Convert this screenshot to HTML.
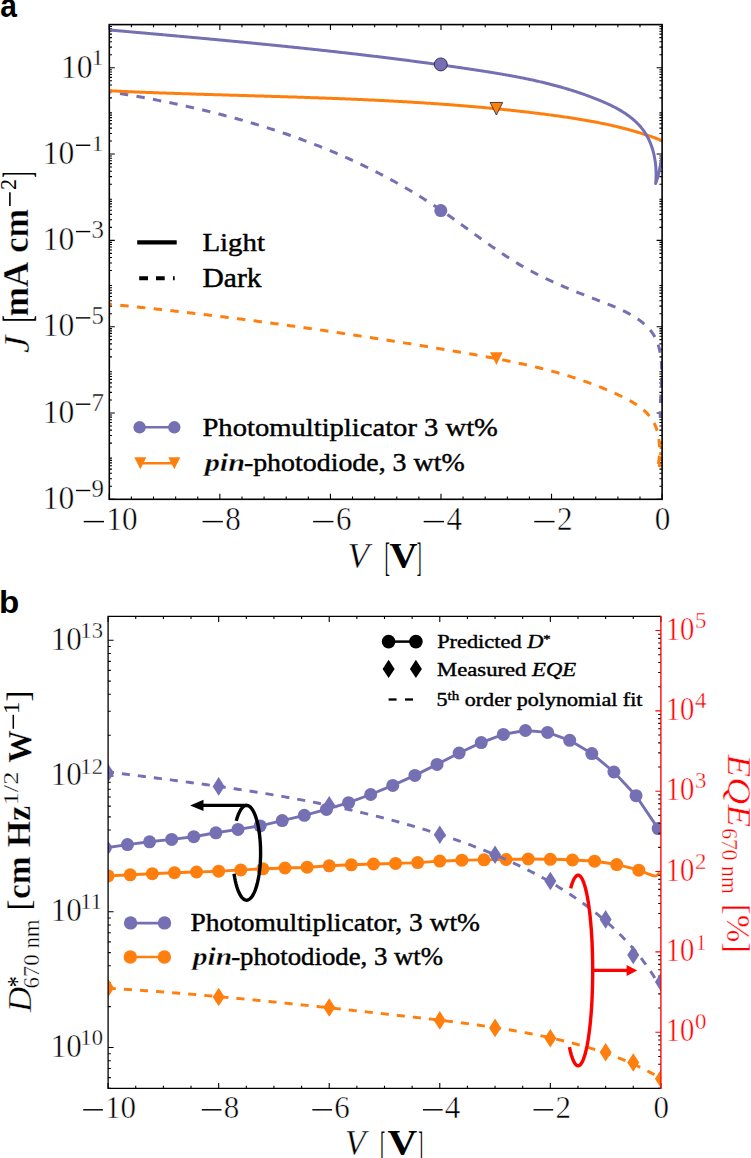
<!DOCTYPE html>
<html><head><meta charset="utf-8"><title>figure</title><style>
html,body{margin:0;padding:0;background:#fff;}
body{width:751px;height:1158px;overflow:hidden;}
svg{display:block;}
text{font-family:"Liberation Serif",serif;}
</style></head><body>
<svg width="751" height="1158" viewBox="0 0 751 1158">
<rect x="0" y="0" width="751" height="1158" fill="#fff"/>
<defs>
<clipPath id="ca"><rect x="109.3" y="24.6" width="552.8" height="474.7"/></clipPath>
<clipPath id="cb"><rect x="108.1" y="616.4" width="552.8" height="472"/></clipPath>
</defs>
<path d="M131.41,499.3 L131.41,496.6 M131.41,24.6 L131.41,27.3 M153.52,499.3 L153.52,496.6 M153.52,24.6 L153.52,27.3 M175.64,499.3 L175.64,496.6 M175.64,24.6 L175.64,27.3 M197.75,499.3 L197.75,496.6 M197.75,24.6 L197.75,27.3 M241.97,499.3 L241.97,496.6 M241.97,24.6 L241.97,27.3 M264.08,499.3 L264.08,496.6 M264.08,24.6 L264.08,27.3 M286.2,499.3 L286.2,496.6 M286.2,24.6 L286.2,27.3 M308.31,499.3 L308.31,496.6 M308.31,24.6 L308.31,27.3 M352.53,499.3 L352.53,496.6 M352.53,24.6 L352.53,27.3 M374.64,499.3 L374.64,496.6 M374.64,24.6 L374.64,27.3 M396.76,499.3 L396.76,496.6 M396.76,24.6 L396.76,27.3 M418.87,499.3 L418.87,496.6 M418.87,24.6 L418.87,27.3 M463.09,499.3 L463.09,496.6 M463.09,24.6 L463.09,27.3 M485.2,499.3 L485.2,496.6 M485.2,24.6 L485.2,27.3 M507.32,499.3 L507.32,496.6 M507.32,24.6 L507.32,27.3 M529.43,499.3 L529.43,496.6 M529.43,24.6 L529.43,27.3 M573.65,499.3 L573.65,496.6 M573.65,24.6 L573.65,27.3 M595.76,499.3 L595.76,496.6 M595.76,24.6 L595.76,27.3 M617.88,499.3 L617.88,496.6 M617.88,24.6 L617.88,27.3 M639.99,499.3 L639.99,496.6 M639.99,24.6 L639.99,27.3 M109.3,499.3 L109.3,493.8 M109.3,24.6 L109.3,30.1 M219.86,499.3 L219.86,493.8 M219.86,24.6 L219.86,30.1 M330.42,499.3 L330.42,493.8 M330.42,24.6 L330.42,30.1 M440.98,499.3 L440.98,493.8 M440.98,24.6 L440.98,30.1 M551.54,499.3 L551.54,493.8 M551.54,24.6 L551.54,30.1 M662.1,499.3 L662.1,493.8 M662.1,24.6 L662.1,30.1 M109.3,486.31 L112,486.31 M662.1,486.31 L659.4,486.31 M109.3,478.71 L112,478.71 M662.1,478.71 L659.4,478.71 M109.3,473.32 L112,473.32 M662.1,473.32 L659.4,473.32 M109.3,469.14 L112,469.14 M662.1,469.14 L659.4,469.14 M109.3,465.72 L112,465.72 M662.1,465.72 L659.4,465.72 M109.3,462.83 L112,462.83 M662.1,462.83 L659.4,462.83 M109.3,460.33 L112,460.33 M662.1,460.33 L659.4,460.33 M109.3,458.12 L112,458.12 M662.1,458.12 L659.4,458.12 M109.3,443.15 L112,443.15 M662.1,443.15 L659.4,443.15 M109.3,435.56 L112,435.56 M662.1,435.56 L659.4,435.56 M109.3,430.16 L112,430.16 M662.1,430.16 L659.4,430.16 M109.3,425.98 L112,425.98 M662.1,425.98 L659.4,425.98 M109.3,422.56 L112,422.56 M662.1,422.56 L659.4,422.56 M109.3,419.68 L112,419.68 M662.1,419.68 L659.4,419.68 M109.3,417.17 L112,417.17 M662.1,417.17 L659.4,417.17 M109.3,414.97 L112,414.97 M662.1,414.97 L659.4,414.97 M109.3,400 L112,400 M662.1,400 L659.4,400 M109.3,392.4 L112,392.4 M662.1,392.4 L659.4,392.4 M109.3,387.01 L112,387.01 M662.1,387.01 L659.4,387.01 M109.3,382.83 L112,382.83 M662.1,382.83 L659.4,382.83 M109.3,379.41 L112,379.41 M662.1,379.41 L659.4,379.41 M109.3,376.52 L112,376.52 M662.1,376.52 L659.4,376.52 M109.3,374.02 L112,374.02 M662.1,374.02 L659.4,374.02 M109.3,371.81 L112,371.81 M662.1,371.81 L659.4,371.81 M109.3,356.85 L112,356.85 M662.1,356.85 L659.4,356.85 M109.3,349.25 L112,349.25 M662.1,349.25 L659.4,349.25 M109.3,343.85 L112,343.85 M662.1,343.85 L659.4,343.85 M109.3,339.67 L112,339.67 M662.1,339.67 L659.4,339.67 M109.3,336.26 L112,336.26 M662.1,336.26 L659.4,336.26 M109.3,333.37 L112,333.37 M662.1,333.37 L659.4,333.37 M109.3,330.86 L112,330.86 M662.1,330.86 L659.4,330.86 M109.3,328.66 L112,328.66 M662.1,328.66 L659.4,328.66 M109.3,313.69 L112,313.69 M662.1,313.69 L659.4,313.69 M109.3,306.09 L112,306.09 M662.1,306.09 L659.4,306.09 M109.3,300.7 L112,300.7 M662.1,300.7 L659.4,300.7 M109.3,296.52 L112,296.52 M662.1,296.52 L659.4,296.52 M109.3,293.1 L112,293.1 M662.1,293.1 L659.4,293.1 M109.3,290.21 L112,290.21 M662.1,290.21 L659.4,290.21 M109.3,287.71 L112,287.71 M662.1,287.71 L659.4,287.71 M109.3,285.5 L112,285.5 M662.1,285.5 L659.4,285.5 M109.3,270.54 L112,270.54 M662.1,270.54 L659.4,270.54 M109.3,262.94 L112,262.94 M662.1,262.94 L659.4,262.94 M109.3,257.55 L112,257.55 M662.1,257.55 L659.4,257.55 M109.3,253.36 L112,253.36 M662.1,253.36 L659.4,253.36 M109.3,249.95 L112,249.95 M662.1,249.95 L659.4,249.95 M109.3,247.06 L112,247.06 M662.1,247.06 L659.4,247.06 M109.3,244.55 L112,244.55 M662.1,244.55 L659.4,244.55 M109.3,242.35 L112,242.35 M662.1,242.35 L659.4,242.35 M109.3,227.38 L112,227.38 M662.1,227.38 L659.4,227.38 M109.3,219.78 L112,219.78 M662.1,219.78 L659.4,219.78 M109.3,214.39 L112,214.39 M662.1,214.39 L659.4,214.39 M109.3,210.21 L112,210.21 M662.1,210.21 L659.4,210.21 M109.3,206.79 L112,206.79 M662.1,206.79 L659.4,206.79 M109.3,203.9 L112,203.9 M662.1,203.9 L659.4,203.9 M109.3,201.4 L112,201.4 M662.1,201.4 L659.4,201.4 M109.3,199.19 L112,199.19 M662.1,199.19 L659.4,199.19 M109.3,184.23 L112,184.23 M662.1,184.23 L659.4,184.23 M109.3,176.63 L112,176.63 M662.1,176.63 L659.4,176.63 M109.3,171.24 L112,171.24 M662.1,171.24 L659.4,171.24 M109.3,167.05 L112,167.05 M662.1,167.05 L659.4,167.05 M109.3,163.64 L112,163.64 M662.1,163.64 L659.4,163.64 M109.3,160.75 L112,160.75 M662.1,160.75 L659.4,160.75 M109.3,158.25 L112,158.25 M662.1,158.25 L659.4,158.25 M109.3,156.04 L112,156.04 M662.1,156.04 L659.4,156.04 M109.3,141.07 L112,141.07 M662.1,141.07 L659.4,141.07 M109.3,133.47 L112,133.47 M662.1,133.47 L659.4,133.47 M109.3,128.08 L112,128.08 M662.1,128.08 L659.4,128.08 M109.3,123.9 L112,123.9 M662.1,123.9 L659.4,123.9 M109.3,120.48 L112,120.48 M662.1,120.48 L659.4,120.48 M109.3,117.59 L112,117.59 M662.1,117.59 L659.4,117.59 M109.3,115.09 L112,115.09 M662.1,115.09 L659.4,115.09 M109.3,112.88 L112,112.88 M662.1,112.88 L659.4,112.88 M109.3,97.92 L112,97.92 M662.1,97.92 L659.4,97.92 M109.3,90.32 L112,90.32 M662.1,90.32 L659.4,90.32 M109.3,84.93 L112,84.93 M662.1,84.93 L659.4,84.93 M109.3,80.75 L112,80.75 M662.1,80.75 L659.4,80.75 M109.3,77.33 L112,77.33 M662.1,77.33 L659.4,77.33 M109.3,74.44 L112,74.44 M662.1,74.44 L659.4,74.44 M109.3,71.94 L112,71.94 M662.1,71.94 L659.4,71.94 M109.3,69.73 L112,69.73 M662.1,69.73 L659.4,69.73 M109.3,54.76 L112,54.76 M662.1,54.76 L659.4,54.76 M109.3,47.16 L112,47.16 M662.1,47.16 L659.4,47.16 M109.3,41.77 L112,41.77 M662.1,41.77 L659.4,41.77 M109.3,37.59 L112,37.59 M662.1,37.59 L659.4,37.59 M109.3,34.17 L112,34.17 M662.1,34.17 L659.4,34.17 M109.3,31.28 L112,31.28 M662.1,31.28 L659.4,31.28 M109.3,28.78 L112,28.78 M662.1,28.78 L659.4,28.78 M109.3,26.57 L112,26.57 M662.1,26.57 L659.4,26.57 M109.3,499.3 L114.8,499.3 M662.1,499.3 L656.6,499.3 M109.3,412.99 L114.8,412.99 M662.1,412.99 L656.6,412.99 M109.3,326.68 L114.8,326.68 M662.1,326.68 L656.6,326.68 M109.3,240.37 L114.8,240.37 M662.1,240.37 L656.6,240.37 M109.3,154.06 L114.8,154.06 M662.1,154.06 L656.6,154.06 M109.3,67.75 L114.8,67.75 M662.1,67.75 L656.6,67.75" stroke="#000" stroke-width="1.1" fill="none"/>
<g clip-path="url(#ca)" fill="none" stroke-linejoin="round">
<path d="M103.37,90.77 L104.87,91 L106.36,91.23 L107.86,91.47 L109.36,91.71 L110.85,91.95 L112.35,92.19 L113.84,92.43 L115.34,92.67 L116.83,92.91 L118.33,93.16 L119.82,93.41 L121.31,93.66 L122.81,93.91 L124.3,94.16 L125.79,94.41 L127.28,94.67 L128.78,94.92 L130.27,95.18 L131.76,95.44 L133.25,95.7 L134.74,95.97 L136.23,96.23 L137.72,96.5 L139.21,96.77 L140.69,97.04 L142.18,97.31 L143.67,97.58 L145.15,97.85 L146.64,98.13 L148.13,98.41 L149.61,98.69 L151.1,98.97 L152.58,99.25 L154.06,99.54 L155.55,99.82 L157.03,100.11 L158.51,100.4 L159.99,100.69 L161.48,100.99 L162.96,101.28 L164.44,101.58 L165.92,101.88 L167.39,102.18 L168.87,102.48 L170.35,102.79 L171.83,103.09 L173.3,103.4 L174.78,103.71 L176.26,104.03 L177.73,104.34 L179.2,104.66 L180.68,104.97 L182.15,105.29 L183.62,105.61 L185.1,105.94 L186.57,106.26 L188.04,106.59 L189.51,106.92 L190.98,107.25 L192.45,107.59 L193.91,107.92 L195.38,108.26 L196.85,108.6 L198.31,108.94 L199.78,109.28 L201.24,109.63 L202.71,109.98 L204.17,110.33 L205.63,110.68 L207.09,111.03 L208.56,111.39 L210.02,111.75 L211.48,112.11 L212.93,112.47 L214.39,112.83 L215.85,113.2 L217.31,113.57 L218.76,113.94 L220.22,114.31 L221.67,114.69 L223.13,115.07 L224.58,115.45 L226.03,115.83 L227.48,116.21 L228.93,116.6 L230.38,116.99 L231.83,117.38 L233.28,117.77 L234.73,118.17 L236.17,118.57 L237.62,118.97 L239.07,119.37 L240.51,119.77 L241.95,120.18 L243.4,120.59 L244.84,121 L246.28,121.42 L247.72,121.83 L249.16,122.25 L250.59,122.67 L252.03,123.1 L253.47,123.52 L254.9,123.95 L256.34,124.38 L257.77,124.82 L259.2,125.25 L260.64,125.69 L262.07,126.13 L263.5,126.58 L264.93,127.02 L266.36,127.47 L267.78,127.92 L269.21,128.38 L270.63,128.83 L272.06,129.29 L273.48,129.75 L274.9,130.22 L276.33,130.68 L277.75,131.15 L279.17,131.62 L280.58,132.1 L282,132.57 L283.42,133.05 L284.83,133.53 L286.25,134.02 L287.66,134.51 L289.07,135 L290.49,135.49 L291.9,135.98 L293.31,136.48 L294.71,136.98 L296.12,137.49 L297.53,137.99 L298.93,138.5 L300.34,139.01 L301.74,139.53 L303.14,140.04 L304.54,140.56 L305.94,141.09 L307.34,141.61 L308.74,142.14 L310.14,142.67 L311.53,143.2 L312.93,143.74 L314.32,144.28 L315.71,144.82 L317.1,145.37 L318.49,145.92 L319.88,146.47 L321.27,147.02 L322.65,147.58 L324.04,148.14 L325.42,148.7 L326.81,149.27 L328.19,149.84 L329.57,150.41 L330.95,150.98 L332.33,151.56 L333.7,152.14 L335.08,152.72 L336.45,153.31 L337.83,153.9 L339.2,154.49 L340.57,155.09 L341.94,155.69 L343.31,156.29 L344.68,156.89 L346.04,157.5 L347.41,158.11 L348.77,158.72 L350.13,159.34 L351.49,159.96 L352.85,160.58 L354.21,161.21 L355.57,161.84 L356.92,162.47 L358.28,163.11 L359.63,163.75 L360.98,164.39 L362.33,165.04 L363.68,165.68 L365.03,166.34 L366.38,166.99 L367.72,167.65 L369.07,168.31 L370.41,168.98 L371.75,169.64 L373.09,170.32 L374.43,170.99 L375.77,171.67 L377.1,172.35 L378.44,173.03 L379.77,173.72 L381.1,174.41 L382.43,175.11 L383.76,175.81 L385.09,176.51 L386.41,177.21 L387.74,177.92 L389.06,178.63 L390.38,179.35 L391.7,180.06 L393.02,180.79 L394.34,181.51 L395.65,182.24 L396.97,182.97 L398.28,183.71 L399.59,184.45 L400.9,185.19 L402.21,185.94 L403.52,186.68 L404.82,187.44 L406.13,188.19 L407.43,188.95 L408.73,189.72 L410.03,190.48 L411.33,191.26 L412.63,192.03 L413.92,192.81 L415.21,193.59 L416.51,194.37 L417.8,195.16 L419.08,195.96 L420.37,196.75 L421.66,197.55 L422.94,198.35 L424.22,199.16 L425.5,199.97 L426.78,200.79 L428.06,201.6 L429.34,202.43 L430.61,203.25 L431.89,204.08 L433.16,204.91 L434.43,205.75 L435.69,206.59 L436.96,207.43 L438.23,208.28 L439.49,209.13 L440.75,209.99 L442.01,210.85 L443.27,211.71 L444.53,212.58 L445.78,213.45 L447.04,214.32 L448.29,215.2 L449.54,216.08 L450.79,216.96 L452.04,217.84 L453.28,218.73 L454.53,219.61 L455.78,220.5 L457.02,221.4 L458.26,222.29 L459.51,223.18 L460.75,224.08 L461.99,224.98 L463.23,225.87 L464.47,226.77 L465.71,227.67 L466.94,228.57 L468.18,229.47 L469.42,230.37 L470.66,231.27 L471.89,232.17 L473.13,233.07 L474.36,233.97 L475.6,234.86 L476.84,235.76 L478.07,236.65 L479.31,237.55 L480.54,238.44 L481.78,239.33 L483.01,240.22 L484.25,241.1 L485.49,241.99 L486.72,242.87 L487.96,243.75 L489.2,244.62 L490.43,245.5 L491.67,246.37 L492.91,247.23 L494.15,248.09 L495.39,248.95 L496.63,249.81 L497.87,250.66 L499.12,251.51 L500.36,252.35 L501.6,253.19 L502.85,254.02 L504.1,254.85 L505.34,255.67 L506.59,256.49 L507.84,257.31 L509.09,258.11 L510.35,258.91 L511.6,259.71 L512.86,260.5 L514.11,261.28 L515.37,262.06 L516.63,262.83 L517.9,263.59 L519.16,264.35 L520.42,265.1 L521.69,265.84 L522.96,266.57 L524.23,267.3 L525.51,268.02 L526.78,268.74 L528.06,269.44 L529.34,270.14 L530.62,270.84 L531.9,271.53 L533.19,272.21 L534.48,272.88 L535.77,273.56 L537.06,274.22 L538.36,274.88 L539.66,275.53 L540.96,276.18 L542.27,276.82 L543.57,277.46 L544.88,278.1 L546.2,278.73 L547.51,279.35 L548.83,279.97 L550.15,280.59 L551.48,281.2 L552.81,281.81 L554.14,282.41 L555.47,283.01 L556.81,283.61 L558.15,284.2 L559.5,284.79 L560.84,285.38 L562.2,285.96 L563.55,286.55 L564.91,287.12 L566.27,287.7 L567.64,288.28 L569.01,288.85 L570.38,289.42 L571.76,289.98 L573.14,290.55 L574.53,291.11 L575.92,291.68 L577.31,292.24 L578.71,292.8 L580.12,293.36 L581.52,293.92 L582.93,294.47 L584.35,295.03 L585.77,295.58 L587.2,296.14 L588.63,296.7 L590.06,297.25 L591.5,297.81 L592.94,298.36 L594.39,298.92 L595.84,299.47 L597.3,300.03 L598.76,300.59 L600.23,301.15 L601.7,301.71 L603.16,302.27 L604.63,302.84 L606.1,303.41 L607.57,303.99 L609.03,304.57 L610.5,305.16 L611.95,305.75 L613.41,306.35 L614.85,306.96 L616.29,307.58 L617.73,308.2 L619.15,308.83 L620.57,309.47 L621.97,310.12 L623.36,310.79 L624.74,311.46 L626.11,312.14 L627.47,312.84 L628.81,313.55 L630.13,314.27 L631.44,315.01 L632.73,315.76 L634,316.53 L635.25,317.31 L636.48,318.11 L637.7,318.92 L638.89,319.75 L640.05,320.6 L641.2,321.47 L642.31,322.36 L643.41,323.26 L644.47,324.19 L645.51,325.13 L646.52,326.1 L647.51,327.09 L648.46,328.1 L649.38,329.13 L650.27,330.19 L651.13,331.27 L651.95,332.38 L652.74,333.5 L653.5,334.66 L654.21,335.84 L654.89,337.05 L655.54,338.28 L656.14,339.54 L656.71,340.83 L657.24,342.15 L657.73,343.49 L658.19,344.85 L658.61,346.24 L659,347.64 L659.36,349.07 L659.69,350.52 L659.99,351.99 L660.26,353.47 L660.51,354.97 L660.72,356.49 L660.91,358.02 L661.08,359.56 L661.23,361.12 L661.35,362.69 L661.45,364.26 L661.54,365.85 L661.6,367.45 L661.65,369.05 L661.67,370.66 L661.69,372.27 L661.69,373.89 L661.67,375.5 L661.65,377.13 L661.61,378.75 L661.57,380.37 L661.51,381.99 L661.45,383.61 L661.38,385.23 L661.3,386.84 L661.22,388.44 L661.13,390.04 L661.05,391.63 L660.96,393.21 L660.87,394.79 L660.78,396.35 L660.7,397.9 L660.62,399.44 L660.54,400.96 L660.46,402.47 L660.4,403.96 L660.34,405.44 L660.29,406.9 L660.24,408.34 L660.21,409.76 L660.19,411.15 L660.19,412.53 L660.19,413.88 L660.22,415.21 L660.25,416.51 L660.31,417.79" stroke="#7570b3" stroke-width="3.0" stroke-dasharray="8.4,8.37" stroke-dashoffset="16.77"/>
<path d="M103.5,303.62 L105,303.77 L106.51,303.91 L108.01,304.06 L109.51,304.2 L111.02,304.35 L112.52,304.5 L114.02,304.65 L115.52,304.8 L117.02,304.94 L118.53,305.09 L120.03,305.24 L121.53,305.4 L123.03,305.55 L124.53,305.7 L126.03,305.85 L127.53,306 L129.03,306.16 L130.53,306.31 L132.03,306.46 L133.53,306.62 L135.03,306.78 L136.53,306.93 L138.03,307.09 L139.53,307.24 L141.03,307.4 L142.52,307.56 L144.02,307.72 L145.52,307.88 L147.02,308.04 L148.51,308.2 L150.01,308.36 L151.51,308.52 L153,308.68 L154.5,308.84 L156,309.01 L157.49,309.17 L158.99,309.33 L160.49,309.5 L161.98,309.66 L163.48,309.83 L164.97,309.99 L166.47,310.16 L167.96,310.33 L169.46,310.49 L170.95,310.66 L172.44,310.83 L173.94,311 L175.43,311.17 L176.93,311.34 L178.42,311.51 L179.91,311.68 L181.41,311.85 L182.9,312.02 L184.39,312.2 L185.88,312.37 L187.38,312.54 L188.87,312.72 L190.36,312.89 L191.85,313.07 L193.34,313.24 L194.84,313.42 L196.33,313.59 L197.82,313.77 L199.31,313.95 L200.8,314.13 L202.29,314.3 L203.78,314.48 L205.27,314.66 L206.76,314.84 L208.25,315.02 L209.74,315.2 L211.23,315.38 L212.72,315.57 L214.21,315.75 L215.7,315.93 L217.19,316.11 L218.68,316.3 L220.17,316.48 L221.66,316.67 L223.15,316.85 L224.63,317.04 L226.12,317.22 L227.61,317.41 L229.1,317.6 L230.59,317.79 L232.08,317.97 L233.56,318.16 L235.05,318.35 L236.54,318.54 L238.03,318.73 L239.51,318.92 L241,319.11 L242.49,319.3 L243.98,319.5 L245.46,319.69 L246.95,319.88 L248.44,320.08 L249.92,320.27 L251.41,320.46 L252.89,320.66 L254.38,320.85 L255.87,321.05 L257.35,321.25 L258.84,321.44 L260.33,321.64 L261.81,321.84 L263.3,322.03 L264.78,322.23 L266.27,322.43 L267.75,322.63 L269.24,322.83 L270.72,323.03 L272.21,323.23 L273.69,323.43 L275.18,323.64 L276.66,323.84 L278.15,324.04 L279.63,324.24 L281.12,324.45 L282.6,324.65 L284.09,324.86 L285.57,325.06 L287.05,325.27 L288.54,325.47 L290.02,325.68 L291.51,325.89 L292.99,326.09 L294.48,326.3 L295.96,326.51 L297.44,326.72 L298.93,326.93 L300.41,327.14 L301.89,327.35 L303.38,327.56 L304.86,327.77 L306.34,327.98 L307.83,328.19 L309.31,328.4 L310.8,328.62 L312.28,328.83 L313.76,329.04 L315.24,329.26 L316.73,329.47 L318.21,329.69 L319.69,329.9 L321.18,330.12 L322.66,330.33 L324.14,330.55 L325.63,330.77 L327.11,330.98 L328.59,331.2 L330.07,331.42 L331.56,331.64 L333.04,331.86 L334.52,332.08 L336.01,332.3 L337.49,332.52 L338.97,332.74 L340.45,332.96 L341.94,333.18 L343.42,333.41 L344.9,333.63 L346.38,333.85 L347.87,334.08 L349.35,334.3 L350.83,334.52 L352.32,334.75 L353.8,334.97 L355.28,335.2 L356.76,335.43 L358.25,335.65 L359.73,335.88 L361.21,336.11 L362.69,336.33 L364.18,336.56 L365.66,336.79 L367.14,337.02 L368.62,337.25 L370.11,337.48 L371.59,337.71 L373.07,337.94 L374.55,338.17 L376.04,338.4 L377.52,338.64 L379,338.87 L380.48,339.1 L381.97,339.33 L383.45,339.57 L384.93,339.8 L386.42,340.04 L387.9,340.27 L389.38,340.51 L390.86,340.74 L392.35,340.98 L393.83,341.21 L395.31,341.45 L396.8,341.69 L398.28,341.93 L399.76,342.16 L401.25,342.4 L402.73,342.64 L404.21,342.88 L405.7,343.12 L407.18,343.36 L408.66,343.6 L410.15,343.84 L411.63,344.08 L413.11,344.33 L414.6,344.57 L416.08,344.81 L417.56,345.05 L419.05,345.3 L420.53,345.54 L422.02,345.79 L423.5,346.03 L424.98,346.27 L426.47,346.52 L427.95,346.77 L429.44,347.01 L430.92,347.26 L432.4,347.51 L433.89,347.75 L435.37,348 L436.86,348.25 L438.34,348.5 L439.83,348.75 L441.31,348.99 L442.8,349.24 L444.28,349.49 L445.77,349.74 L447.25,350 L448.74,350.25 L450.22,350.5 L451.71,350.75 L453.19,351 L454.68,351.25 L456.17,351.51 L457.65,351.76 L459.14,352.01 L460.62,352.27 L462.11,352.52 L463.6,352.78 L465.08,353.04 L466.57,353.29 L468.05,353.55 L469.54,353.81 L471.03,354.07 L472.51,354.33 L474,354.59 L475.48,354.85 L476.97,355.11 L478.45,355.38 L479.94,355.64 L481.42,355.91 L482.91,356.17 L484.39,356.44 L485.87,356.71 L487.36,356.99 L488.84,357.26 L490.32,357.53 L491.81,357.81 L493.29,358.09 L494.77,358.37 L496.25,358.65 L497.73,358.93 L499.21,359.22 L500.69,359.51 L502.17,359.79 L503.65,360.09 L505.13,360.38 L506.61,360.68 L508.08,360.97 L509.56,361.27 L511.03,361.58 L512.51,361.88 L513.98,362.19 L515.46,362.5 L516.93,362.81 L518.4,363.12 L519.87,363.44 L521.34,363.76 L522.81,364.08 L524.28,364.41 L525.75,364.74 L527.22,365.07 L528.68,365.4 L530.15,365.74 L531.61,366.08 L533.08,366.42 L534.54,366.77 L536,367.12 L537.46,367.47 L538.92,367.83 L540.38,368.19 L541.83,368.55 L543.29,368.92 L544.74,369.29 L546.2,369.67 L547.65,370.04 L549.1,370.43 L550.55,370.81 L552,371.2 L553.45,371.59 L554.89,371.99 L556.34,372.39 L557.78,372.8 L559.22,373.21 L560.66,373.62 L562.1,374.04 L563.54,374.46 L564.97,374.89 L566.41,375.32 L567.84,375.75 L569.27,376.19 L570.71,376.64 L572.13,377.09 L573.56,377.54 L574.99,378 L576.41,378.46 L577.83,378.93 L579.25,379.4 L580.67,379.88 L582.09,380.36 L583.51,380.85 L584.92,381.34 L586.33,381.84 L587.74,382.35 L589.15,382.85 L590.56,383.37 L591.96,383.89 L593.36,384.41 L594.76,384.94 L596.16,385.48 L597.56,386.02 L598.96,386.57 L600.35,387.12 L601.74,387.68 L603.13,388.24 L604.52,388.81 L605.9,389.39 L607.28,389.97 L608.67,390.56 L610.04,391.15 L611.42,391.75 L612.8,392.36 L614.17,392.97 L615.54,393.59 L616.91,394.22 L618.27,394.85 L619.63,395.49 L620.99,396.13 L622.35,396.79 L623.7,397.45 L625.04,398.12 L626.38,398.8 L627.7,399.5 L629.02,400.21 L630.32,400.92 L631.61,401.66 L632.89,402.41 L634.15,403.17 L635.39,403.95 L636.61,404.75 L637.82,405.57 L639,406.4 L640.17,407.26 L641.31,408.14 L642.42,409.03 L643.51,409.96 L644.57,410.9 L645.61,411.87 L646.61,412.87 L647.59,413.89 L648.53,414.94 L649.44,416.01 L650.31,417.12 L651.15,418.25 L651.95,419.42 L652.71,420.61 L653.44,421.84 L654.12,423.11 L654.76,424.4 L655.36,425.73 L655.91,427.1 L656.42,428.5 L656.89,429.93 L657.32,431.38 L657.71,432.86 L658.05,434.37 L658.36,435.89 L658.64,437.44 L658.87,439 L659.07,440.58 L659.24,442.17 L659.36,443.77 L659.46,445.37 L659.52,446.99 L659.56,448.6 L659.56,450.22 L659.53,451.84 L659.47,453.46 L659.38,455.07 L659.27,456.67 L659.13,458.26 L658.96,459.85 L658.76,461.42 L658.55,462.97 L658.31,464.5 L658.04,466.02 L657.76,467.51" stroke="#ff7f0e" stroke-width="3.0" stroke-dasharray="8.4,8.38" stroke-dashoffset="16.68"/>
<path d="M659.2,467 L660.3,458 L661,450 L661.6,441" stroke="#ff7f0e" stroke-width="3.0" stroke-dasharray="3,3"/>
<path d="M106.18,90.63 L107.67,90.7 L109.15,90.77 L110.63,90.84 L112.12,90.92 L113.6,90.99 L115.09,91.05 L116.57,91.12 L118.06,91.19 L119.54,91.26 L121.03,91.33 L122.51,91.39 L124,91.46 L125.48,91.52 L126.97,91.59 L128.46,91.65 L129.95,91.72 L131.43,91.78 L132.92,91.84 L134.41,91.91 L135.9,91.97 L137.39,92.03 L138.88,92.09 L140.37,92.15 L141.86,92.21 L143.35,92.27 L144.84,92.33 L146.33,92.38 L147.82,92.44 L149.31,92.5 L150.8,92.56 L152.29,92.61 L153.78,92.67 L155.27,92.73 L156.77,92.78 L158.26,92.84 L159.75,92.89 L161.24,92.94 L162.74,93 L164.23,93.05 L165.73,93.1 L167.22,93.16 L168.71,93.21 L170.21,93.26 L171.7,93.31 L173.2,93.36 L174.69,93.41 L176.19,93.47 L177.68,93.52 L179.18,93.57 L180.68,93.62 L182.17,93.66 L183.67,93.71 L185.17,93.76 L186.66,93.81 L188.16,93.86 L189.66,93.91 L191.15,93.96 L192.65,94 L194.15,94.05 L195.65,94.1 L197.15,94.14 L198.64,94.19 L200.14,94.24 L201.64,94.28 L203.14,94.33 L204.64,94.38 L206.14,94.42 L207.64,94.47 L209.14,94.51 L210.64,94.56 L212.14,94.6 L213.64,94.65 L215.14,94.69 L216.64,94.74 L218.14,94.78 L219.64,94.83 L221.14,94.87 L222.64,94.92 L224.15,94.96 L225.65,95.01 L227.15,95.05 L228.65,95.09 L230.15,95.14 L231.66,95.18 L233.16,95.23 L234.66,95.27 L236.16,95.31 L237.66,95.36 L239.17,95.4 L240.67,95.44 L242.17,95.49 L243.68,95.53 L245.18,95.58 L246.68,95.62 L248.19,95.66 L249.69,95.71 L251.19,95.75 L252.7,95.8 L254.2,95.84 L255.71,95.88 L257.21,95.93 L258.71,95.97 L260.22,96.02 L261.72,96.06 L263.23,96.11 L264.73,96.15 L266.24,96.19 L267.74,96.24 L269.25,96.28 L270.75,96.33 L272.26,96.38 L273.76,96.42 L275.27,96.47 L276.77,96.51 L278.28,96.56 L279.78,96.6 L281.29,96.65 L282.79,96.7 L284.3,96.74 L285.8,96.79 L287.31,96.84 L288.82,96.88 L290.32,96.93 L291.83,96.98 L293.33,97.03 L294.84,97.08 L296.34,97.12 L297.85,97.17 L299.36,97.22 L300.86,97.27 L302.37,97.32 L303.87,97.37 L305.38,97.42 L306.89,97.47 L308.39,97.52 L309.9,97.57 L311.41,97.63 L312.91,97.68 L314.42,97.73 L315.92,97.78 L317.43,97.84 L318.94,97.89 L320.44,97.94 L321.95,98 L323.46,98.05 L324.96,98.1 L326.47,98.16 L327.97,98.22 L329.48,98.27 L330.99,98.33 L332.49,98.38 L334,98.44 L335.51,98.5 L337.01,98.56 L338.52,98.62 L340.02,98.68 L341.53,98.74 L343.04,98.8 L344.54,98.86 L346.05,98.92 L347.55,98.98 L349.06,99.04 L350.57,99.1 L352.07,99.17 L353.58,99.23 L355.08,99.29 L356.59,99.36 L358.09,99.42 L359.6,99.49 L361.11,99.56 L362.61,99.62 L364.12,99.69 L365.62,99.76 L367.13,99.83 L368.63,99.9 L370.14,99.97 L371.64,100.04 L373.15,100.11 L374.65,100.18 L376.16,100.25 L377.66,100.32 L379.17,100.4 L380.67,100.47 L382.18,100.55 L383.68,100.62 L385.18,100.7 L386.69,100.78 L388.19,100.85 L389.7,100.93 L391.2,101.01 L392.7,101.09 L394.21,101.17 L395.71,101.25 L397.22,101.33 L398.72,101.42 L400.22,101.5 L401.72,101.59 L403.23,101.67 L404.73,101.76 L406.23,101.84 L407.74,101.93 L409.24,102.02 L410.74,102.11 L412.24,102.2 L413.75,102.29 L415.25,102.38 L416.75,102.47 L418.25,102.56 L419.75,102.66 L421.25,102.75 L422.75,102.85 L424.26,102.94 L425.76,103.04 L427.26,103.14 L428.76,103.24 L430.26,103.34 L431.76,103.44 L433.26,103.54 L434.76,103.64 L436.26,103.75 L437.76,103.85 L439.26,103.96 L440.76,104.07 L442.26,104.17 L443.75,104.28 L445.25,104.39 L446.75,104.5 L448.25,104.61 L449.75,104.72 L451.25,104.84 L452.74,104.95 L454.24,105.07 L455.74,105.18 L457.23,105.3 L458.73,105.42 L460.23,105.54 L461.72,105.66 L463.22,105.78 L464.72,105.9 L466.21,106.03 L467.71,106.15 L469.2,106.28 L470.7,106.4 L472.19,106.53 L473.69,106.66 L475.18,106.79 L476.68,106.92 L478.17,107.05 L479.67,107.19 L481.16,107.32 L482.65,107.46 L484.14,107.59 L485.64,107.73 L487.13,107.87 L488.62,108.01 L490.11,108.15 L491.61,108.3 L493.1,108.44 L494.59,108.59 L496.08,108.73 L497.57,108.88 L499.06,109.03 L500.55,109.18 L502.04,109.33 L503.53,109.48 L505.02,109.64 L506.51,109.79 L508,109.95 L509.49,110.11 L510.97,110.26 L512.46,110.42 L513.95,110.59 L515.44,110.75 L516.92,110.91 L518.41,111.08 L519.9,111.24 L521.38,111.41 L522.87,111.58 L524.35,111.75 L525.84,111.92 L527.33,112.1 L528.81,112.27 L530.29,112.45 L531.78,112.63 L533.26,112.81 L534.74,112.99 L536.23,113.17 L537.71,113.35 L539.19,113.53 L540.67,113.72 L542.16,113.91 L543.64,114.1 L545.12,114.29 L546.6,114.48 L548.08,114.67 L549.56,114.87 L551.04,115.06 L552.52,115.26 L554,115.46 L555.48,115.66 L556.95,115.86 L558.43,116.07 L559.91,116.27 L561.39,116.48 L562.86,116.69 L564.34,116.9 L565.82,117.12 L567.29,117.33 L568.77,117.55 L570.24,117.78 L571.72,118 L573.19,118.23 L574.66,118.46 L576.14,118.69 L577.61,118.92 L579.08,119.16 L580.55,119.4 L582.03,119.65 L583.5,119.9 L584.97,120.15 L586.44,120.4 L587.91,120.66 L589.38,120.93 L590.85,121.19 L592.32,121.46 L593.79,121.74 L595.25,122.01 L596.72,122.29 L598.19,122.58 L599.66,122.87 L601.12,123.17 L602.59,123.47 L604.05,123.77 L605.52,124.08 L606.98,124.39 L608.45,124.71 L609.91,125.03 L611.37,125.36 L612.84,125.69 L614.3,126.03 L615.76,126.38 L617.22,126.72 L618.68,127.08 L620.14,127.44 L621.6,127.8 L623.06,128.18 L624.52,128.55 L625.98,128.94 L627.44,129.32 L628.9,129.72 L630.36,130.12 L631.81,130.53 L633.27,130.94 L634.73,131.36 L636.18,131.79 L637.64,132.22 L639.09,132.66 L640.54,133.11 L642,133.56 L643.45,134.03 L644.9,134.49 L646.36,134.97 L647.81,135.45 L649.26,135.94 L650.71,136.44 L652.16,136.94 L653.61,137.45 L655.06,137.97 L656.51,138.5 L657.95,139.04 L659.4,139.58 L660.85,140.13 L662.29,140.69 L663.74,141.26" stroke="#ff7f0e" stroke-width="3.0"/>
<path d="M106.24,29.71 L107.22,29.79 L108.2,29.88 L109.18,29.97 L110.16,30.05 L111.14,30.14 L112.12,30.23 L113.1,30.31 L114.08,30.4 L115.07,30.49 L116.05,30.57 L117.03,30.66 L118.01,30.75 L118.99,30.83 L119.98,30.92 L120.96,31.01 L121.94,31.09 L122.93,31.18 L123.91,31.27 L124.89,31.35 L125.88,31.44 L126.86,31.53 L127.85,31.62 L128.83,31.7 L129.81,31.79 L130.8,31.88 L131.78,31.96 L132.77,32.05 L133.75,32.14 L134.74,32.23 L135.73,32.31 L136.71,32.4 L137.7,32.49 L138.68,32.58 L139.67,32.66 L140.66,32.75 L141.64,32.84 L142.63,32.93 L143.62,33.02 L144.61,33.1 L145.59,33.19 L146.58,33.28 L147.57,33.37 L148.56,33.46 L149.55,33.54 L150.53,33.63 L151.52,33.72 L152.51,33.81 L153.5,33.9 L154.49,33.98 L155.48,34.07 L156.47,34.16 L157.46,34.25 L158.45,34.34 L159.44,34.43 L160.43,34.52 L161.42,34.61 L162.41,34.69 L163.4,34.78 L164.39,34.87 L165.38,34.96 L166.37,35.05 L167.36,35.14 L168.35,35.23 L169.35,35.32 L170.34,35.41 L171.33,35.5 L172.32,35.59 L173.31,35.68 L174.31,35.77 L175.3,35.86 L176.29,35.95 L177.28,36.04 L178.28,36.13 L179.27,36.22 L180.26,36.31 L181.25,36.4 L182.25,36.49 L183.24,36.58 L184.23,36.67 L185.23,36.76 L186.22,36.85 L187.22,36.94 L188.21,37.03 L189.2,37.12 L190.2,37.21 L191.19,37.3 L192.19,37.39 L193.18,37.48 L194.18,37.58 L195.17,37.67 L196.17,37.76 L197.16,37.85 L198.16,37.94 L199.15,38.03 L200.15,38.13 L201.14,38.22 L202.14,38.31 L203.14,38.4 L204.13,38.49 L205.13,38.59 L206.12,38.68 L207.12,38.77 L208.12,38.86 L209.11,38.96 L210.11,39.05 L211.11,39.14 L212.1,39.24 L213.1,39.33 L214.1,39.42 L215.09,39.52 L216.09,39.61 L217.09,39.7 L218.08,39.8 L219.08,39.89 L220.08,39.98 L221.08,40.08 L222.07,40.17 L223.07,40.27 L224.07,40.36 L225.07,40.45 L226.07,40.55 L227.06,40.64 L228.06,40.74 L229.06,40.83 L230.06,40.93 L231.06,41.02 L232.06,41.12 L233.05,41.21 L234.05,41.31 L235.05,41.41 L236.05,41.5 L237.05,41.6 L238.05,41.69 L239.05,41.79 L240.05,41.89 L241.04,41.98 L242.04,42.08 L243.04,42.18 L244.04,42.27 L245.04,42.37 L246.04,42.47 L247.04,42.56 L248.04,42.66 L249.04,42.76 L250.04,42.86 L251.04,42.95 L252.04,43.05 L253.04,43.15 L254.04,43.25 L255.04,43.34 L256.04,43.44 L257.04,43.54 L258.04,43.64 L259.04,43.74 L260.04,43.84 L261.04,43.94 L262.04,44.04 L263.04,44.14 L264.04,44.24 L265.04,44.33 L266.04,44.43 L267.04,44.53 L268.04,44.63 L269.04,44.73 L270.04,44.84 L271.04,44.94 L272.04,45.04 L273.04,45.14 L274.04,45.24 L275.04,45.34 L276.05,45.44 L277.05,45.54 L278.05,45.64 L279.05,45.75 L280.05,45.85 L281.05,45.95 L282.05,46.05 L283.05,46.15 L284.05,46.26 L285.05,46.36 L286.05,46.46 L287.05,46.57 L288.05,46.67 L289.06,46.77 L290.06,46.88 L291.06,46.98 L292.06,47.08 L293.06,47.19 L294.06,47.29 L295.06,47.4 L296.06,47.5 L297.06,47.61 L298.06,47.71 L299.06,47.81 L300.07,47.92 L301.07,48.03 L302.07,48.13 L303.07,48.24 L304.07,48.34 L305.07,48.45 L306.07,48.56 L307.07,48.66 L308.07,48.77 L309.07,48.88 L310.07,48.98 L311.07,49.09 L312.08,49.2 L313.08,49.3 L314.08,49.41 L315.08,49.52 L316.08,49.63 L317.08,49.74 L318.08,49.85 L319.08,49.95 L320.08,50.06 L321.08,50.17 L322.08,50.28 L323.08,50.39 L324.08,50.5 L325.08,50.61 L326.08,50.72 L327.09,50.83 L328.09,50.94 L329.09,51.05 L330.09,51.16 L331.09,51.27 L332.09,51.38 L333.09,51.5 L334.09,51.61 L335.09,51.72 L336.09,51.83 L337.09,51.94 L338.09,52.06 L339.09,52.17 L340.09,52.28 L341.09,52.39 L342.09,52.51 L343.09,52.62 L344.09,52.73 L345.09,52.85 L346.09,52.96 L347.08,53.08 L348.08,53.19 L349.08,53.31 L350.08,53.42 L351.08,53.54 L352.08,53.65 L353.08,53.77 L354.08,53.88 L355.08,54 L356.08,54.11 L357.08,54.23 L358.08,54.35 L359.07,54.46 L360.07,54.58 L361.07,54.7 L362.07,54.82 L363.07,54.93 L364.07,55.05 L365.07,55.17 L366.06,55.29 L367.06,55.41 L368.06,55.53 L369.06,55.65 L370.06,55.77 L371.05,55.89 L372.05,56 L373.05,56.12 L374.05,56.25 L375.04,56.37 L376.04,56.49 L377.04,56.61 L378.04,56.73 L379.03,56.85 L380.03,56.97 L381.03,57.09 L382.02,57.22 L383.02,57.34 L384.02,57.46 L385.01,57.58 L386.01,57.71 L387.01,57.83 L388,57.95 L389,58.08 L390,58.2 L390.99,58.33 L391.99,58.45 L392.98,58.58 L393.98,58.7 L394.97,58.83 L395.97,58.95 L396.96,59.08 L397.96,59.2 L398.95,59.33 L399.95,59.46 L400.94,59.58 L401.94,59.71 L402.93,59.84 L403.93,59.97 L404.92,60.09 L405.92,60.22 L406.91,60.35 L407.9,60.48 L408.9,60.61 L409.89,60.74 L410.89,60.87 L411.88,61 L412.87,61.13 L413.87,61.26 L414.86,61.39 L415.85,61.52 L416.84,61.65 L417.84,61.78 L418.83,61.91 L419.82,62.04 L420.81,62.18 L421.81,62.31 L422.8,62.44 L423.79,62.57 L424.78,62.71 L425.77,62.84 L426.76,62.97 L427.76,63.11 L428.75,63.24 L429.74,63.38 L430.73,63.51 L431.72,63.65 L432.71,63.78 L433.7,63.92 L434.69,64.05 L435.68,64.19 L436.67,64.33 L437.66,64.46 L438.65,64.6 L439.64,64.74 L440.63,64.88 L441.62,65.01 L442.61,65.15 L443.59,65.29 L444.58,65.43 L445.57,65.57 L446.56,65.71 L447.55,65.85 L448.53,65.99 L449.52,66.13 L450.51,66.27 L451.5,66.41 L452.48,66.55 L453.47,66.69 L454.46,66.84 L455.44,66.98 L456.43,67.12 L457.42,67.26 L458.4,67.41 L459.39,67.55 L460.37,67.69 L461.36,67.84 L462.35,67.98 L463.33,68.12 L464.32,68.27 L465.3,68.41 L466.28,68.56 L467.27,68.71 L468.25,68.85 L469.24,69 L470.22,69.15 L471.2,69.29 L472.19,69.44 L473.17,69.59 L474.15,69.73 L475.14,69.88 L476.12,70.03 L477.1,70.18 L478.08,70.33 L479.06,70.48 L480.05,70.63 L481.03,70.78 L482.01,70.93 L482.99,71.09 L483.97,71.24 L484.95,71.39 L485.93,71.54 L486.91,71.7 L487.89,71.85 L488.87,72.01 L489.85,72.17 L490.83,72.32 L491.81,72.48 L492.79,72.64 L493.77,72.8 L494.75,72.96 L495.72,73.12 L496.7,73.28 L497.68,73.45 L498.66,73.61 L499.63,73.77 L500.61,73.94 L501.59,74.11 L502.56,74.27 L503.54,74.44 L504.52,74.61 L505.49,74.78 L506.47,74.95 L507.44,75.13 L508.42,75.3 L509.39,75.48 L510.37,75.65 L511.34,75.83 L512.32,76.01 L513.29,76.19 L514.26,76.37 L515.24,76.55 L516.21,76.74 L517.18,76.92 L518.16,77.11 L519.13,77.3 L520.1,77.49 L521.07,77.68 L522.04,77.87 L523.02,78.07 L523.99,78.26 L524.96,78.46 L525.93,78.66 L526.9,78.86 L527.87,79.06 L528.84,79.26 L529.81,79.47 L530.78,79.67 L531.75,79.88 L532.72,80.09 L533.68,80.3 L534.65,80.52 L535.62,80.73 L536.59,80.95 L537.55,81.17 L538.52,81.39 L539.49,81.61 L540.45,81.84 L541.42,82.06 L542.39,82.29 L543.35,82.52 L544.32,82.75 L545.28,82.99 L546.25,83.22 L547.21,83.46 L548.18,83.7 L549.14,83.95 L550.1,84.19 L551.07,84.44 L552.03,84.69 L552.99,84.94 L553.96,85.19 L554.92,85.45 L555.88,85.7 L556.84,85.96 L557.8,86.23 L558.76,86.49 L559.72,86.76 L560.68,87.03 L561.64,87.3 L562.6,87.58 L563.56,87.85 L564.52,88.13 L565.48,88.41 L566.44,88.7 L567.4,88.99 L568.36,89.28 L569.31,89.57 L570.27,89.86 L571.23,90.16 L572.18,90.46 L573.14,90.76 L574.1,91.07 L575.05,91.38 L576.01,91.69 L576.96,92 L577.92,92.32 L578.87,92.64 L579.83,92.96 L580.78,93.28 L581.73,93.61 L582.69,93.94 L583.64,94.27 L584.59,94.61 L585.54,94.95 L586.49,95.29 L587.45,95.64 L588.4,95.99 L589.35,96.34 L590.3,96.69 L591.25,97.05 L592.2,97.41 L593.15,97.78 L594.1,98.14 L595.04,98.52 L595.99,98.89 L596.94,99.27 L597.89,99.65 L598.83,100.03 L599.78,100.42 L600.72,100.81 L601.67,101.21 L602.61,101.61 L603.55,102.01 L604.48,102.42 L605.42,102.83 L606.35,103.25 L607.28,103.67 L608.21,104.09 L609.13,104.53 L610.05,104.96 L610.97,105.4 L611.88,105.85 L612.79,106.3 L613.69,106.76 L614.59,107.23 L615.49,107.7 L616.38,108.17 L617.26,108.65 L618.14,109.14 L619.02,109.64 L619.89,110.14 L620.75,110.65 L621.61,111.16 L622.46,111.68 L623.3,112.21 L624.14,112.75 L624.97,113.29 L625.79,113.84 L626.61,114.4 L627.42,114.96 L628.22,115.54 L629.01,116.12 L629.79,116.71 L630.57,117.3 L631.33,117.91 L632.09,118.52 L632.84,119.15 L633.58,119.78 L634.31,120.42 L635.03,121.07 L635.74,121.73 L636.44,122.4 L637.13,123.07 L637.81,123.76 L638.48,124.46 L639.13,125.16 L639.78,125.88 L640.41,126.6 L641.04,127.34 L641.65,128.09 L642.25,128.84 L642.83,129.61 L643.41,130.39 L643.97,131.18 L644.52,131.98 L645.05,132.79 L645.58,133.61 L646.09,134.44 L646.58,135.29 L647.06,136.14 L647.53,137 L647.99,137.88 L648.43,138.76 L648.86,139.65 L649.28,140.55 L649.68,141.46 L650.07,142.38 L650.45,143.3 L650.82,144.24 L651.17,145.18 L651.51,146.12 L651.84,147.08 L652.16,148.04 L652.46,149.01 L652.75,149.98 L653.03,150.96 L653.29,151.94 L653.54,152.93 L653.79,153.93 L654.01,154.93 L654.23,155.93 L654.43,156.94 L654.63,157.95 L654.81,158.96 L654.97,159.98 L655.13,161 L655.27,162.02 L655.41,163.04 L655.53,164.07 L655.64,165.1 L655.73,166.13 L655.82,167.16 L655.89,168.19 L655.95,169.22 L656.01,170.25 L656.04,171.28 L656.07,172.31 L656.09,173.34 L656.09,174.37 L656.09,175.4 L656.07,176.43 L656.04,177.45 L656,178.48 L655.95,179.5 L655.89,180.51 L655.82,181.53 L655.73,182.54 L655.64,183.55 L658.3,175.6 L660.4,165.3 L662.5,154" stroke="#7570b3" stroke-width="3.0"/>
</g>
<circle cx="440.8" cy="64.4" r="6.5" fill="#7570b3" stroke="#1a1a33" stroke-width="0.8"/>
<circle cx="440.8" cy="210.6" r="6.5" fill="#7570b3"/>
<path d="M490.1,102.45 L502.7,102.45 L496.4,115.05 Z" fill="#ff7f0e" stroke="#222" stroke-width="0.8" stroke-linejoin="miter"/>
<path d="M490.1,352.3 L502.7,352.3 L496.4,364.9 Z" fill="#ff7f0e"/>
<line x1="137.2" y1="242.3" x2="176.7" y2="242.3" stroke="#000" stroke-width="4.2"/>
<path d="M139.2,278.2 H148 M156,278.2 H164.7 M173,278.2 H174.7" stroke="#000" stroke-width="4.1"/>
<line x1="139.6" y1="427.3" x2="174.3" y2="427.3" stroke="#7570b3" stroke-width="2.6"/>
<circle cx="139.6" cy="427.3" r="6.2" fill="#7570b3"/>
<circle cx="174.3" cy="427.3" r="6.2" fill="#7570b3"/>
<line x1="140.3" y1="463.3" x2="174.3" y2="463.3" stroke="#ff7f0e" stroke-width="2.6"/>
<path d="M134.3,457.3 L146.3,457.3 L140.3,469.3 Z" fill="#ff7f0e"/>
<path d="M168.3,457.3 L180.3,457.3 L174.3,469.3 Z" fill="#ff7f0e"/>
<rect x="109.3" y="24.6" width="552.8" height="474.7" fill="none" stroke="#000" stroke-width="1.6"/>
<path d="M108.1,1088.4 L108.1,1082.9 M108.1,616.4 L108.1,621.9 M135.74,1088.4 L135.74,1085.7 M135.74,616.4 L135.74,619.1 M163.38,1088.4 L163.38,1085.7 M163.38,616.4 L163.38,619.1 M191.02,1088.4 L191.02,1085.7 M191.02,616.4 L191.02,619.1 M218.66,1088.4 L218.66,1082.9 M218.66,616.4 L218.66,621.9 M246.3,1088.4 L246.3,1085.7 M246.3,616.4 L246.3,619.1 M273.94,1088.4 L273.94,1085.7 M273.94,616.4 L273.94,619.1 M301.58,1088.4 L301.58,1085.7 M301.58,616.4 L301.58,619.1 M329.22,1088.4 L329.22,1082.9 M329.22,616.4 L329.22,621.9 M356.86,1088.4 L356.86,1085.7 M356.86,616.4 L356.86,619.1 M384.5,1088.4 L384.5,1085.7 M384.5,616.4 L384.5,619.1 M412.14,1088.4 L412.14,1085.7 M412.14,616.4 L412.14,619.1 M439.78,1088.4 L439.78,1082.9 M439.78,616.4 L439.78,621.9 M467.42,1088.4 L467.42,1085.7 M467.42,616.4 L467.42,619.1 M495.06,1088.4 L495.06,1085.7 M495.06,616.4 L495.06,619.1 M522.7,1088.4 L522.7,1085.7 M522.7,616.4 L522.7,619.1 M550.34,1088.4 L550.34,1082.9 M550.34,616.4 L550.34,621.9 M577.98,1088.4 L577.98,1085.7 M577.98,616.4 L577.98,619.1 M605.62,1088.4 L605.62,1085.7 M605.62,616.4 L605.62,619.1 M633.26,1088.4 L633.26,1085.7 M633.26,616.4 L633.26,619.1 M660.9,1088.4 L660.9,1082.9 M660.9,616.4 L660.9,621.9 M108.1,1088.4 L110.8,1088.4 M108.1,1077.65 L110.8,1077.65 M108.1,1068.56 L110.8,1068.56 M108.1,1060.69 L110.8,1060.69 M108.1,1053.75 L110.8,1053.75 M108.1,1006.67 L110.8,1006.67 M108.1,982.77 L110.8,982.77 M108.1,965.81 L110.8,965.81 M108.1,952.66 L110.8,952.66 M108.1,941.91 L110.8,941.91 M108.1,932.82 L110.8,932.82 M108.1,924.95 L110.8,924.95 M108.1,918 L110.8,918 M108.1,870.93 L110.8,870.93 M108.1,847.03 L110.8,847.03 M108.1,830.07 L110.8,830.07 M108.1,816.91 L110.8,816.91 M108.1,806.16 L110.8,806.16 M108.1,797.07 L110.8,797.07 M108.1,789.2 L110.8,789.2 M108.1,782.26 L110.8,782.26 M108.1,735.18 L110.8,735.18 M108.1,711.28 L110.8,711.28 M108.1,694.32 L110.8,694.32 M108.1,681.17 L110.8,681.17 M108.1,670.42 L110.8,670.42 M108.1,661.33 L110.8,661.33 M108.1,653.46 L110.8,653.46 M108.1,646.51 L110.8,646.51 M108.1,1047.54 L113.6,1047.54 M108.1,911.79 L113.6,911.79 M108.1,776.05 L113.6,776.05 M108.1,640.3 L113.6,640.3" stroke="#000" stroke-width="1.1" fill="none"/>
<g clip-path="url(#cb)" stroke-linejoin="round">
<path d="M108.1,875.9 C111.79,875.72 122.84,875.17 130.21,874.8 C137.58,874.43 144.95,874.05 152.32,873.7 C159.69,873.35 167.07,872.98 174.44,872.7 C181.81,872.42 189.18,872.25 196.55,872 C203.92,871.75 211.29,871.53 218.66,871.2 C226.03,870.87 233.4,870.4 240.77,870 C248.14,869.6 255.51,869.13 262.88,868.8 C270.25,868.47 277.63,868.27 285,868 C292.37,867.73 299.74,867.57 307.11,867.2 C314.48,866.83 321.85,866.2 329.22,865.8 C336.59,865.4 343.96,865.1 351.33,864.8 C358.7,864.5 366.07,864.23 373.44,864 C380.81,863.77 388.19,863.63 395.56,863.4 C402.93,863.17 410.3,862.98 417.67,862.6 C425.04,862.22 432.41,861.5 439.78,861.1 C447.15,860.7 454.52,860.42 461.89,860.2 C469.26,859.98 476.63,859.92 484,859.8 C491.37,859.68 498.75,859.63 506.12,859.5 C513.49,859.37 520.86,859.03 528.23,859 C535.6,858.97 542.97,859.13 550.34,859.3 C557.71,859.47 565.08,859.68 572.45,860 C579.82,860.32 587.19,860.43 594.56,861.2 C601.93,861.97 609.31,863.1 616.68,864.6 C624.05,866.1 633.57,868.67 638.79,870.2 C644.01,871.73 645.38,872.85 648,873.8 C650.62,874.75 652.92,875.7 654.5,875.9 C656.08,876.1 656.65,875.58 657.5,875 C658.35,874.42 659.25,872.83 659.6,872.4" fill="none" stroke="#ff7f0e" stroke-width="2.9"/>
<circle cx="638.79" cy="870.2" r="6.5" fill="#ff7f0e"/>
<circle cx="616.68" cy="864.6" r="6.5" fill="#ff7f0e"/>
<circle cx="594.56" cy="861.2" r="6.5" fill="#ff7f0e"/>
<circle cx="572.45" cy="860" r="6.5" fill="#ff7f0e"/>
<circle cx="550.34" cy="859.3" r="6.5" fill="#ff7f0e"/>
<circle cx="528.23" cy="859" r="6.5" fill="#ff7f0e"/>
<circle cx="506.12" cy="859.5" r="6.5" fill="#ff7f0e"/>
<circle cx="484" cy="859.8" r="6.5" fill="#ff7f0e"/>
<circle cx="461.89" cy="860.2" r="6.5" fill="#ff7f0e"/>
<circle cx="439.78" cy="861.1" r="6.5" fill="#ff7f0e"/>
<circle cx="417.67" cy="862.6" r="6.5" fill="#ff7f0e"/>
<circle cx="395.56" cy="863.4" r="6.5" fill="#ff7f0e"/>
<circle cx="373.44" cy="864" r="6.5" fill="#ff7f0e"/>
<circle cx="351.33" cy="864.8" r="6.5" fill="#ff7f0e"/>
<circle cx="329.22" cy="865.8" r="6.5" fill="#ff7f0e"/>
<circle cx="307.11" cy="867.2" r="6.5" fill="#ff7f0e"/>
<circle cx="285" cy="868" r="6.5" fill="#ff7f0e"/>
<circle cx="262.88" cy="868.8" r="6.5" fill="#ff7f0e"/>
<circle cx="240.77" cy="870" r="6.5" fill="#ff7f0e"/>
<circle cx="218.66" cy="871.2" r="6.5" fill="#ff7f0e"/>
<circle cx="196.55" cy="872" r="6.5" fill="#ff7f0e"/>
<circle cx="174.44" cy="872.7" r="6.5" fill="#ff7f0e"/>
<circle cx="152.32" cy="873.7" r="6.5" fill="#ff7f0e"/>
<circle cx="130.21" cy="874.8" r="6.5" fill="#ff7f0e"/>
<circle cx="108.1" cy="875.9" r="6.5" fill="#ff7f0e"/>
<path d="M105.34,848 L127.45,844.6 L149.56,841.8 L171.67,839.4 L193.78,836.7 L215.9,832.8 L238.01,829.4 L260.12,825.9 L282.23,820.6 L304.34,815.3 L326.46,809.4 L348.57,802.7 L370.68,794.5 L392.79,785.4 L414.9,775.4 L437.02,764.4 L459.13,753 L481.24,742.6 L503.35,734.4 L525.46,730.5 L547.58,732.4 L569.69,740.3 L591.8,753.6 L613.91,772 L636.02,795.7 L658.14,828.6 L661.5,834.5" fill="none" stroke="#7570b3" stroke-width="2.9"/>
<circle cx="658.14" cy="828.6" r="6.5" fill="#7570b3"/>
<circle cx="636.02" cy="795.7" r="6.5" fill="#7570b3"/>
<circle cx="613.91" cy="772" r="6.5" fill="#7570b3"/>
<circle cx="591.8" cy="753.6" r="6.5" fill="#7570b3"/>
<circle cx="569.69" cy="740.3" r="6.5" fill="#7570b3"/>
<circle cx="547.58" cy="732.4" r="6.5" fill="#7570b3"/>
<circle cx="525.46" cy="730.5" r="6.5" fill="#7570b3"/>
<circle cx="503.35" cy="734.4" r="6.5" fill="#7570b3"/>
<circle cx="481.24" cy="742.6" r="6.5" fill="#7570b3"/>
<circle cx="459.13" cy="753" r="6.5" fill="#7570b3"/>
<circle cx="437.02" cy="764.4" r="6.5" fill="#7570b3"/>
<circle cx="414.9" cy="775.4" r="6.5" fill="#7570b3"/>
<circle cx="392.79" cy="785.4" r="6.5" fill="#7570b3"/>
<circle cx="370.68" cy="794.5" r="6.5" fill="#7570b3"/>
<circle cx="348.57" cy="802.7" r="6.5" fill="#7570b3"/>
<circle cx="326.46" cy="809.4" r="6.5" fill="#7570b3"/>
<circle cx="304.34" cy="815.3" r="6.5" fill="#7570b3"/>
<circle cx="282.23" cy="820.6" r="6.5" fill="#7570b3"/>
<circle cx="260.12" cy="825.9" r="6.5" fill="#7570b3"/>
<circle cx="238.01" cy="829.4" r="6.5" fill="#7570b3"/>
<circle cx="215.9" cy="832.8" r="6.5" fill="#7570b3"/>
<circle cx="193.78" cy="836.7" r="6.5" fill="#7570b3"/>
<circle cx="171.67" cy="839.4" r="6.5" fill="#7570b3"/>
<circle cx="149.56" cy="841.8" r="6.5" fill="#7570b3"/>
<circle cx="127.45" cy="844.6" r="6.5" fill="#7570b3"/>
<circle cx="105.34" cy="848" r="6.5" fill="#7570b3"/>
</g>
<path d="M660.9,1088.4 L658.2,1088.4 M660.9,1074.25 L658.2,1074.25 M660.9,1064.22 L658.2,1064.22 M660.9,1056.43 L658.2,1056.43 M660.9,1050.07 L658.2,1050.07 M660.9,1044.69 L658.2,1044.69 M660.9,1040.03 L658.2,1040.03 M660.9,1035.92 L658.2,1035.92 M660.9,1008.06 L658.2,1008.06 M660.9,993.91 L658.2,993.91 M660.9,983.88 L658.2,983.88 M660.9,976.09 L658.2,976.09 M660.9,969.73 L658.2,969.73 M660.9,964.35 L658.2,964.35 M660.9,959.69 L658.2,959.69 M660.9,955.58 L658.2,955.58 M660.9,927.72 L658.2,927.72 M660.9,913.57 L658.2,913.57 M660.9,903.54 L658.2,903.54 M660.9,895.75 L658.2,895.75 M660.9,889.39 L658.2,889.39 M660.9,884.01 L658.2,884.01 M660.9,879.35 L658.2,879.35 M660.9,875.24 L658.2,875.24 M660.9,847.38 L658.2,847.38 M660.9,833.23 L658.2,833.23 M660.9,823.2 L658.2,823.2 M660.9,815.41 L658.2,815.41 M660.9,809.05 L658.2,809.05 M660.9,803.67 L658.2,803.67 M660.9,799.01 L658.2,799.01 M660.9,794.9 L658.2,794.9 M660.9,767.04 L658.2,767.04 M660.9,752.89 L658.2,752.89 M660.9,742.86 L658.2,742.86 M660.9,735.07 L658.2,735.07 M660.9,728.71 L658.2,728.71 M660.9,723.33 L658.2,723.33 M660.9,718.67 L658.2,718.67 M660.9,714.56 L658.2,714.56 M660.9,686.7 L658.2,686.7 M660.9,672.55 L658.2,672.55 M660.9,662.52 L658.2,662.52 M660.9,654.73 L658.2,654.73 M660.9,648.37 L658.2,648.37 M660.9,642.99 L658.2,642.99 M660.9,638.33 L658.2,638.33 M660.9,634.22 L658.2,634.22" stroke="#000" stroke-width="1.1" fill="none"/>
<path d="M660.9,1032.25 L655.4,1032.25 M660.9,951.91 L655.4,951.91 M660.9,871.57 L655.4,871.57 M660.9,791.23 L655.4,791.23 M660.9,710.89 L655.4,710.89 M660.9,630.55 L655.4,630.55" stroke="#ff0000" stroke-width="1.1" fill="none"/>
<g clip-path="url(#cb)" stroke-linejoin="round">
<path d="M108.21,988.25 L109.7,988.33 L111.2,988.42 L112.7,988.51 L114.19,988.6 L115.69,988.7 L117.19,988.79 L118.69,988.88 L120.18,988.97 L121.68,989.07 L123.18,989.16 L124.67,989.26 L126.17,989.36 L127.67,989.45 L129.16,989.55 L130.66,989.65 L132.16,989.75 L133.65,989.85 L135.15,989.95 L136.64,990.05 L138.14,990.16 L139.64,990.26 L141.13,990.37 L142.63,990.47 L144.12,990.58 L145.62,990.68 L147.12,990.79 L148.61,990.9 L150.11,991 L151.6,991.11 L153.1,991.22 L154.6,991.33 L156.09,991.44 L157.59,991.56 L159.08,991.67 L160.58,991.78 L162.07,991.89 L163.57,992.01 L165.06,992.12 L166.56,992.24 L168.05,992.36 L169.55,992.47 L171.04,992.59 L172.54,992.71 L174.03,992.83 L175.53,992.95 L177.02,993.07 L178.52,993.19 L180.01,993.31 L181.51,993.43 L183,993.55 L184.5,993.68 L185.99,993.8 L187.49,993.92 L188.98,994.05 L190.48,994.17 L191.97,994.3 L193.47,994.43 L194.96,994.55 L196.46,994.68 L197.95,994.81 L199.45,994.94 L200.94,995.07 L202.44,995.2 L203.93,995.33 L205.42,995.46 L206.92,995.59 L208.41,995.72 L209.91,995.85 L211.4,995.99 L212.9,996.12 L214.39,996.25 L215.89,996.39 L217.38,996.52 L218.87,996.66 L220.37,996.8 L221.86,996.93 L223.36,997.07 L224.85,997.21 L226.35,997.35 L227.84,997.48 L229.33,997.62 L230.83,997.76 L232.32,997.9 L233.82,998.04 L235.31,998.18 L236.81,998.33 L238.3,998.47 L239.79,998.61 L241.29,998.75 L242.78,998.9 L244.28,999.04 L245.77,999.18 L247.27,999.33 L248.76,999.47 L250.25,999.62 L251.75,999.76 L253.24,999.91 L254.74,1000.06 L256.23,1000.2 L257.73,1000.35 L259.22,1000.5 L260.71,1000.65 L262.21,1000.8 L263.7,1000.94 L265.2,1001.09 L266.69,1001.24 L268.19,1001.39 L269.68,1001.54 L271.18,1001.69 L272.67,1001.85 L274.16,1002 L275.66,1002.15 L277.15,1002.3 L278.65,1002.45 L280.14,1002.61 L281.64,1002.76 L283.13,1002.91 L284.63,1003.07 L286.12,1003.22 L287.62,1003.38 L289.11,1003.53 L290.61,1003.69 L292.1,1003.84 L293.6,1004 L295.09,1004.15 L296.58,1004.31 L298.08,1004.47 L299.57,1004.63 L301.07,1004.78 L302.56,1004.94 L304.06,1005.1 L305.55,1005.26 L307.05,1005.41 L308.55,1005.57 L310.04,1005.73 L311.54,1005.89 L313.03,1006.05 L314.53,1006.21 L316.02,1006.37 L317.52,1006.53 L319.01,1006.69 L320.51,1006.85 L322,1007.01 L323.5,1007.17 L324.99,1007.34 L326.49,1007.5 L327.99,1007.66 L329.48,1007.82 L330.98,1007.98 L332.47,1008.15 L333.97,1008.31 L335.46,1008.47 L336.96,1008.63 L338.46,1008.8 L339.95,1008.96 L341.45,1009.13 L342.95,1009.29 L344.44,1009.45 L345.94,1009.62 L347.43,1009.78 L348.93,1009.95 L350.43,1010.11 L351.92,1010.28 L353.42,1010.44 L354.92,1010.61 L356.41,1010.77 L357.91,1010.94 L359.41,1011.1 L360.9,1011.27 L362.4,1011.43 L363.9,1011.6 L365.4,1011.76 L366.89,1011.93 L368.39,1012.1 L369.89,1012.26 L371.38,1012.43 L372.88,1012.6 L374.38,1012.76 L375.88,1012.93 L377.38,1013.1 L378.87,1013.26 L380.37,1013.43 L381.87,1013.6 L383.37,1013.76 L384.87,1013.93 L386.36,1014.1 L387.86,1014.27 L389.36,1014.43 L390.86,1014.6 L392.36,1014.77 L393.86,1014.93 L395.35,1015.1 L396.85,1015.27 L398.35,1015.44 L399.85,1015.61 L401.35,1015.77 L402.85,1015.94 L404.35,1016.11 L405.85,1016.28 L407.35,1016.44 L408.85,1016.61 L410.34,1016.78 L411.84,1016.95 L413.34,1017.12 L414.84,1017.29 L416.34,1017.46 L417.84,1017.62 L419.34,1017.79 L420.84,1017.96 L422.34,1018.14 L423.84,1018.31 L425.34,1018.48 L426.84,1018.65 L428.34,1018.82 L429.83,1019 L431.33,1019.17 L432.83,1019.35 L434.33,1019.52 L435.83,1019.7 L437.33,1019.87 L438.82,1020.05 L440.32,1020.23 L441.82,1020.41 L443.32,1020.59 L444.81,1020.77 L446.31,1020.95 L447.81,1021.13 L449.3,1021.32 L450.8,1021.5 L452.3,1021.68 L453.79,1021.87 L455.29,1022.06 L456.78,1022.25 L458.28,1022.44 L459.77,1022.63 L461.27,1022.82 L462.76,1023.01 L464.25,1023.21 L465.75,1023.41 L467.24,1023.6 L468.73,1023.8 L470.22,1024 L471.72,1024.2 L473.21,1024.41 L474.7,1024.61 L476.19,1024.82 L477.68,1025.02 L479.17,1025.23 L480.66,1025.44 L482.14,1025.66 L483.63,1025.87 L485.12,1026.09 L486.61,1026.3 L488.09,1026.52 L489.58,1026.74 L491.06,1026.97 L492.55,1027.19 L494.03,1027.42 L495.52,1027.64 L497,1027.87 L498.48,1028.11 L499.96,1028.34 L501.45,1028.58 L502.93,1028.82 L504.41,1029.06 L505.89,1029.3 L507.36,1029.54 L508.84,1029.79 L510.32,1030.04 L511.8,1030.29 L513.27,1030.54 L514.75,1030.8 L516.22,1031.06 L517.7,1031.32 L519.17,1031.58 L520.64,1031.85 L522.11,1032.11 L523.58,1032.38 L525.05,1032.66 L526.52,1032.93 L527.99,1033.21 L529.46,1033.49 L530.93,1033.77 L532.39,1034.06 L533.86,1034.35 L535.32,1034.64 L536.78,1034.93 L538.25,1035.23 L539.71,1035.53 L541.17,1035.83 L542.63,1036.13 L544.09,1036.44 L545.54,1036.75 L547,1037.07 L548.46,1037.38 L549.91,1037.7 L551.37,1038.03 L552.82,1038.35 L554.27,1038.68 L555.72,1039.01 L557.17,1039.35 L558.62,1039.69 L560.07,1040.03 L561.52,1040.37 L562.96,1040.72 L564.41,1041.07 L565.85,1041.43 L567.29,1041.79 L568.74,1042.15 L570.18,1042.52 L571.61,1042.89 L573.05,1043.26 L574.49,1043.64 L575.93,1044.02 L577.36,1044.41 L578.79,1044.8 L580.23,1045.2 L581.66,1045.59 L583.09,1046 L584.52,1046.41 L585.94,1046.82 L587.37,1047.24 L588.79,1047.66 L590.22,1048.09 L591.64,1048.52 L593.06,1048.96 L594.48,1049.4 L595.9,1049.85 L597.32,1050.31 L598.73,1050.77 L600.15,1051.23 L601.56,1051.7 L602.97,1052.18 L604.38,1052.66 L605.79,1053.15 L607.2,1053.64 L608.61,1054.14 L610.01,1054.65 L611.42,1055.16 L612.82,1055.68 L614.22,1056.2 L615.62,1056.74 L617.01,1057.27 L618.41,1057.82 L619.81,1058.37 L621.2,1058.93 L622.59,1059.49 L623.98,1060.07 L625.37,1060.64 L626.76,1061.23 L628.14,1061.82 L629.53,1062.43 L630.91,1063.03 L632.29,1063.65 L633.67,1064.27 L635.05,1064.9 L636.42,1065.54 L637.8,1066.19 L639.17,1066.84 L640.54,1067.51 L641.91,1068.18 L643.28,1068.86 L644.64,1069.54 L646.01,1070.24 L647.37,1070.94 L648.73,1071.65 L650.09,1072.37 L651.45,1073.1 L652.81,1073.84 L654.16,1074.59 L655.51,1075.35 L656.86,1076.11 L658.21,1076.88 L659.56,1077.67 L660.9,1078.46 L662.25,1079.26 L663.59,1080.07" fill="none" stroke="#ff7f0e" stroke-width="2.9" stroke-dasharray="8.1,8.03" stroke-dashoffset="0.45"/>
<path d="M108.04,771.97 L109.54,772.16 L111.04,772.35 L112.54,772.53 L114.04,772.72 L115.54,772.91 L117.04,773.1 L118.54,773.29 L120.04,773.47 L121.54,773.66 L123.04,773.85 L124.54,774.04 L126.04,774.22 L127.53,774.41 L129.03,774.6 L130.53,774.79 L132.03,774.98 L133.53,775.16 L135.02,775.35 L136.52,775.54 L138.02,775.73 L139.51,775.92 L141.01,776.11 L142.51,776.3 L144,776.48 L145.5,776.67 L146.99,776.86 L148.49,777.05 L149.98,777.24 L151.48,777.43 L152.97,777.62 L154.47,777.81 L155.96,778 L157.46,778.19 L158.95,778.39 L160.45,778.58 L161.94,778.77 L163.43,778.96 L164.93,779.15 L166.42,779.35 L167.91,779.54 L169.4,779.73 L170.9,779.93 L172.39,780.12 L173.88,780.32 L175.37,780.51 L176.86,780.71 L178.36,780.9 L179.85,781.1 L181.34,781.29 L182.83,781.49 L184.32,781.69 L185.81,781.89 L187.3,782.09 L188.79,782.29 L190.28,782.49 L191.77,782.69 L193.25,782.89 L194.74,783.09 L196.23,783.29 L197.72,783.49 L199.21,783.7 L200.7,783.9 L202.18,784.11 L203.67,784.31 L205.16,784.52 L206.64,784.72 L208.13,784.93 L209.62,785.14 L211.1,785.35 L212.59,785.56 L214.07,785.77 L215.56,785.98 L217.04,786.19 L218.53,786.4 L220.01,786.61 L221.5,786.83 L222.98,787.04 L224.47,787.26 L225.95,787.47 L227.43,787.69 L228.92,787.91 L230.4,788.13 L231.88,788.35 L233.36,788.57 L234.85,788.79 L236.33,789.01 L237.81,789.24 L239.29,789.46 L240.77,789.68 L242.25,789.91 L243.73,790.14 L245.21,790.37 L246.69,790.59 L248.17,790.82 L249.65,791.06 L251.13,791.29 L252.61,791.52 L254.09,791.76 L255.57,791.99 L257.05,792.23 L258.53,792.46 L260,792.7 L261.48,792.94 L262.96,793.18 L264.44,793.42 L265.91,793.67 L267.39,793.91 L268.86,794.16 L270.34,794.4 L271.82,794.65 L273.29,794.9 L274.77,795.15 L276.24,795.4 L277.72,795.65 L279.19,795.91 L280.66,796.16 L282.14,796.42 L283.61,796.68 L285.08,796.94 L286.56,797.2 L288.03,797.46 L289.5,797.72 L290.97,797.99 L292.45,798.25 L293.92,798.52 L295.39,798.79 L296.86,799.06 L298.33,799.33 L299.8,799.6 L301.27,799.88 L302.74,800.15 L304.21,800.43 L305.68,800.71 L307.15,800.99 L308.62,801.27 L310.08,801.55 L311.55,801.84 L313.02,802.12 L314.49,802.41 L315.95,802.7 L317.42,802.99 L318.89,803.28 L320.35,803.58 L321.82,803.87 L323.29,804.17 L324.75,804.47 L326.22,804.77 L327.68,805.07 L329.15,805.37 L330.61,805.68 L332.07,805.99 L333.54,806.3 L335,806.61 L336.46,806.92 L337.93,807.23 L339.39,807.55 L340.85,807.87 L342.31,808.18 L343.77,808.51 L345.24,808.83 L346.7,809.15 L348.16,809.48 L349.62,809.81 L351.08,810.14 L352.54,810.47 L354,810.8 L355.46,811.14 L356.91,811.48 L358.37,811.82 L359.83,812.16 L361.29,812.5 L362.75,812.85 L364.2,813.19 L365.66,813.54 L367.12,813.9 L368.57,814.25 L370.03,814.6 L371.48,814.96 L372.94,815.32 L374.39,815.68 L375.85,816.05 L377.3,816.41 L378.76,816.78 L380.21,817.15 L381.66,817.52 L383.12,817.89 L384.57,818.27 L386.02,818.65 L387.47,819.03 L388.93,819.41 L390.38,819.79 L391.83,820.18 L393.28,820.57 L394.73,820.96 L396.18,821.36 L397.63,821.75 L399.08,822.15 L400.53,822.55 L401.98,822.95 L403.42,823.36 L404.87,823.76 L406.32,824.17 L407.77,824.58 L409.21,825 L410.66,825.41 L412.11,825.83 L413.55,826.25 L415,826.68 L416.44,827.1 L417.89,827.53 L419.33,827.96 L420.78,828.39 L422.22,828.83 L423.67,829.27 L425.11,829.71 L426.55,830.15 L427.99,830.6 L429.44,831.04 L430.88,831.49 L432.32,831.95 L433.76,832.4 L435.2,832.86 L436.64,833.32 L438.08,833.78 L439.52,834.25 L440.96,834.72 L442.39,835.19 L443.83,835.66 L445.27,836.14 L446.7,836.62 L448.14,837.1 L449.57,837.59 L451,838.08 L452.44,838.57 L453.87,839.06 L455.3,839.56 L456.73,840.06 L458.15,840.56 L459.58,841.06 L461.01,841.57 L462.43,842.08 L463.86,842.6 L465.28,843.12 L466.7,843.64 L468.12,844.16 L469.54,844.69 L470.96,845.22 L472.38,845.75 L473.8,846.29 L475.21,846.83 L476.62,847.37 L478.04,847.91 L479.45,848.46 L480.86,849.02 L482.26,849.57 L483.67,850.13 L485.08,850.69 L486.48,851.26 L487.88,851.83 L489.28,852.4 L490.68,852.98 L492.08,853.56 L493.47,854.14 L494.86,854.73 L496.26,855.32 L497.65,855.91 L499.03,856.51 L500.42,857.11 L501.81,857.71 L503.19,858.32 L504.57,858.93 L505.95,859.55 L507.32,860.16 L508.7,860.79 L510.07,861.41 L511.44,862.04 L512.81,862.68 L514.18,863.32 L515.54,863.96 L516.91,864.6 L518.27,865.25 L519.62,865.9 L520.98,866.56 L522.33,867.22 L523.68,867.89 L525.03,868.56 L526.38,869.23 L527.72,869.91 L529.06,870.59 L530.4,871.27 L531.74,871.96 L533.07,872.65 L534.4,873.35 L535.73,874.05 L537.06,874.76 L538.38,875.47 L539.7,876.18 L541.02,876.9 L542.34,877.62 L543.65,878.35 L544.96,879.08 L546.27,879.82 L547.57,880.56 L548.87,881.3 L550.17,882.05 L551.47,882.8 L552.76,883.56 L554.05,884.32 L555.34,885.09 L556.62,885.86 L557.9,886.63 L559.18,887.41 L560.46,888.2 L561.73,888.98 L563,889.78 L564.26,890.58 L565.52,891.38 L566.78,892.19 L568.04,893 L569.29,893.81 L570.54,894.64 L571.78,895.46 L573.02,896.29 L574.26,897.13 L575.5,897.97 L576.73,898.82 L577.96,899.67 L579.18,900.52 L580.4,901.38 L581.62,902.25 L582.83,903.12 L584.04,903.99 L585.24,904.87 L586.44,905.75 L587.64,906.64 L588.83,907.54 L590.02,908.44 L591.21,909.34 L592.39,910.25 L593.56,911.17 L594.73,912.09 L595.9,913.02 L597.06,913.95 L598.22,914.88 L599.37,915.82 L600.52,916.77 L601.66,917.72 L602.8,918.68 L603.93,919.64 L605.06,920.61 L606.18,921.58 L607.3,922.56 L608.41,923.55 L609.52,924.54 L610.62,925.53 L611.72,926.53 L612.81,927.54 L613.9,928.55 L614.98,929.57 L616.06,930.59 L617.12,931.62 L618.19,932.65 L619.25,933.69 L620.3,934.73 L621.34,935.79 L622.38,936.84 L623.42,937.9 L624.45,938.97 L625.47,940.05 L626.48,941.13 L627.49,942.21 L628.5,943.3 L629.49,944.4 L630.48,945.5 L631.47,946.61 L632.45,947.72 L633.42,948.84 L634.38,949.97 L635.34,951.1 L636.29,952.24 L637.23,953.39 L638.17,954.54 L639.1,955.69 L640.02,956.86 L640.94,958.02 L641.85,959.2 L642.75,960.38 L643.64,961.57 L644.53,962.76 L645.41,963.96 L646.28,965.17 L647.14,966.38 L648,967.6 L648.85,968.82 L649.69,970.05 L650.53,971.29 L651.35,972.53 L652.17,973.78 L652.98,975.04 L653.78,976.3 L654.58,977.57 L655.36,978.85 L656.14,980.13 L656.91,981.42 L657.67,982.71 L658.42,984.02 L659.17,985.32 L659.9,986.64 L660.63,987.96 L661.35,989.29 L662.06,990.62 L662.76,991.97" fill="none" stroke="#7570b3" stroke-width="2.9" stroke-dasharray="8.1,8.01" stroke-dashoffset="2.19"/>
<path d="M108.1,978.7 L114.1,988 L108.1,997.3 L102.1,988 Z" fill="#ff7f0e"/>
<path d="M218.66,987.7 L224.66,997 L218.66,1006.3 L212.66,997 Z" fill="#ff7f0e"/>
<path d="M329.22,998.2 L335.22,1007.5 L329.22,1016.8 L323.22,1007.5 Z" fill="#ff7f0e"/>
<path d="M439.78,1011.1 L445.78,1020.4 L439.78,1029.7 L433.78,1020.4 Z" fill="#ff7f0e"/>
<path d="M495.06,1018.6 L501.06,1027.9 L495.06,1037.2 L489.06,1027.9 Z" fill="#ff7f0e"/>
<path d="M550.34,1029 L556.34,1038.3 L550.34,1047.6 L544.34,1038.3 Z" fill="#ff7f0e"/>
<path d="M605.62,1042.9 L611.62,1052.2 L605.62,1061.5 L599.62,1052.2 Z" fill="#ff7f0e"/>
<path d="M633.26,1053.2 L639.26,1062.5 L633.26,1071.8 L627.26,1062.5 Z" fill="#ff7f0e"/>
<path d="M660.9,1069.5 L666.9,1078.8 L660.9,1088.1 L654.9,1078.8 Z" fill="#ff7f0e"/>
<path d="M108.1,763.7 L114.1,773 L108.1,782.3 L102.1,773 Z" fill="#7570b3"/>
<path d="M218.66,777.1 L224.66,786.4 L218.66,795.7 L212.66,786.4 Z" fill="#7570b3"/>
<path d="M329.22,795.9 L335.22,805.2 L329.22,814.5 L323.22,805.2 Z" fill="#7570b3"/>
<path d="M439.78,825.5 L445.78,834.8 L439.78,844.1 L433.78,834.8 Z" fill="#7570b3"/>
<path d="M495.06,845.5 L501.06,854.8 L495.06,864.1 L489.06,854.8 Z" fill="#7570b3"/>
<path d="M550.34,871.7 L556.34,881 L550.34,890.3 L544.34,881 Z" fill="#7570b3"/>
<path d="M605.62,910.1 L611.62,919.4 L605.62,928.7 L599.62,919.4 Z" fill="#7570b3"/>
<path d="M633.26,945.7 L639.26,955 L633.26,964.3 L627.26,955 Z" fill="#7570b3"/>
<path d="M660.9,972.7 L666.9,982 L660.9,991.3 L654.9,982 Z" fill="#7570b3"/>
</g>
<path d="M236.25,820.9 L237.08,818.04 L237.98,815.44 L238.95,813.1 L239.97,811.05 L241.04,809.3 L242.15,807.86 L243.29,806.75 L244.45,805.96 L245.63,805.51 L246.82,805.41 L248,805.64 L249.18,806.21 L250.33,807.11 L251.46,808.35 L252.56,809.9 L253.61,811.76 L254.61,813.92 L255.55,816.36 L256.43,819.05 L257.24,822 L257.97,825.16 L258.62,828.52 L259.19,832.05 L259.66,835.74 L260.04,839.54 L260.32,843.44 L260.51,847.41 L260.59,851.42 L260.58,855.44 L260.46,859.44 L260.25,863.39 L259.93,867.26 L259.52,871.03 L259.02,874.67 L258.43,878.16 L257.75,881.46 L256.99,884.55 L256.16,887.42 L255.26,890.04 L254.3,892.39 L253.28,894.45 L252.22,896.22 L251.11,897.67 L249.97,898.81 L248.81,899.61 L247.63,900.07 L246.44,900.2 L245.26,899.98 L244.08,899.43 L242.93,898.54 L241.79,897.32 L240.7,895.78 L239.64,893.94 L238.64,891.79 L237.69,889.37 L236.81,886.69 L236,883.76 L235.26,880.61 L234.61,877.25 L234.04,873.73" fill="none" stroke="#000" stroke-width="3.4" stroke-linecap="butt"/>
<line x1="247" y1="805.4" x2="200" y2="805.4" stroke="#000" stroke-width="3.4"/>
<path d="M190.1,805.4 L203.5,799.8 L203.5,811.0 Z" fill="#000"/>
<path d="M570.69,888.39 L571.61,885.13 L572.57,882.31 L573.55,879.94 L574.56,878.04 L575.59,876.62 L576.62,875.69 L577.67,875.24 L578.72,875.29 L579.77,875.82 L580.8,876.85 L581.83,878.35 L582.83,880.34 L583.81,882.79 L584.76,885.69 L585.67,889.03 L586.55,892.79 L587.38,896.95 L588.17,901.49 L588.9,906.38 L589.58,911.61 L590.2,917.14 L590.75,922.95 L591.24,929 L591.67,935.26 L592.02,941.71 L592.3,948.31 L592.51,955.02 L592.64,961.81 L592.7,968.64 L592.68,975.49 L592.59,982.31 L592.42,989.06 L592.18,995.73 L591.87,1002.26 L591.48,1008.63 L591.03,1014.8 L590.51,1020.74 L589.92,1026.43 L589.28,1031.82 L588.57,1036.9 L587.82,1041.64 L587.01,1046.01 L586.15,1049.98 L585.26,1053.55 L584.33,1056.69 L583.36,1059.39 L582.37,1061.63 L581.36,1063.39 L580.33,1064.68 L579.29,1065.48 L578.24,1065.8 L577.19,1065.62 L576.15,1064.94 L575.11,1063.79 L574.1,1062.15 L573.1,1060.03 L572.13,1057.46 L571.19,1054.44 L570.28,1050.98 L569.42,1047.11" fill="none" stroke="#ff0000" stroke-width="3.4" stroke-linecap="butt"/>
<line x1="592.5" y1="970.4" x2="629" y2="970.4" stroke="#ff0000" stroke-width="3.4"/>
<path d="M637.2,970.4 L626.6,964.9 L626.6,975.9 Z" fill="#ff0000"/>
<line x1="388.6" y1="641.6" x2="415.9" y2="641.6" stroke="#000" stroke-width="2.5"/>
<circle cx="388.6" cy="641.6" r="6.8" fill="#000"/>
<circle cx="415.9" cy="641.6" r="6.8" fill="#000"/>
<path d="M388.6,659.7 L394.6,668.9 L388.6,678.1 L382.6,668.9 Z" fill="#000"/>
<path d="M415.9,659.7 L421.9,668.9 L415.9,678.1 L409.9,668.9 Z" fill="#000"/>
<line x1="388.6" y1="699.5" x2="396.6" y2="699.5" stroke="#000" stroke-width="2.3"/>
<line x1="405" y1="699.5" x2="413" y2="699.5" stroke="#000" stroke-width="2.3"/>
<line x1="130.3" y1="923.1" x2="164.4" y2="923.1" stroke="#7570b3" stroke-width="2.6"/>
<circle cx="130.6" cy="922.9" r="6.7" fill="#7570b3"/>
<circle cx="164.5" cy="922.9" r="6.7" fill="#7570b3"/>
<line x1="130.3" y1="957" x2="164.4" y2="957" stroke="#ff7f0e" stroke-width="2.6"/>
<circle cx="130.3" cy="957" r="6.7" fill="#ff7f0e"/>
<circle cx="164.4" cy="957" r="6.7" fill="#ff7f0e"/>
<path d="M660.9,616.4 L108.1,616.4 L108.1,1088.4 L660.9,1088.4" fill="none" stroke="#000" stroke-width="1.3"/>
<line x1="660.9" y1="615.75" x2="660.9" y2="1089.05" stroke="#ff0000" stroke-width="1.35"/>
<g transform="translate(0.2,17.48) scale(0.30000,0.32364)"><text font-size="100"  style="font-family:'Liberation Sans',sans-serif" font-weight="bold">a</text></g>
<g transform="translate(-1.12,612.68) scale(0.33200,0.32162)"><text font-size="100"  style="font-family:'Liberation Sans',sans-serif" font-weight="bold">b</text></g>
<g transform="translate(42.76,509.1) scale(0.31609,0.34697)" stroke="#fff" stroke-width="1.508" stroke-linejoin="round"><text font-size="100">10</text></g>
<line x1="75.9" y1="490.5" x2="90.3" y2="490.5" stroke="#000" stroke-width="1.4"/>
<g transform="translate(91.46,496.86) scale(0.24878,0.24179)" stroke="#fff" stroke-width="1.427" stroke-linejoin="round"><text font-size="100">9</text></g>
<g transform="translate(42.76,422.79) scale(0.31609,0.34697)" stroke="#fff" stroke-width="1.508" stroke-linejoin="round"><text font-size="100">10</text></g>
<line x1="75.9" y1="404.19" x2="90.3" y2="404.19" stroke="#000" stroke-width="1.4"/>
<g transform="translate(91.46,410.55) scale(0.24878,0.24179)" stroke="#fff" stroke-width="1.427" stroke-linejoin="round"><text font-size="100">7</text></g>
<g transform="translate(42.76,336.48) scale(0.31609,0.34697)" stroke="#fff" stroke-width="1.508" stroke-linejoin="round"><text font-size="100">10</text></g>
<line x1="75.9" y1="317.88" x2="90.3" y2="317.88" stroke="#000" stroke-width="1.4"/>
<g transform="translate(91.46,324.24) scale(0.24878,0.24179)" stroke="#fff" stroke-width="1.427" stroke-linejoin="round"><text font-size="100">5</text></g>
<g transform="translate(42.76,250.17) scale(0.31609,0.34697)" stroke="#fff" stroke-width="1.508" stroke-linejoin="round"><text font-size="100">10</text></g>
<line x1="75.9" y1="231.57" x2="90.3" y2="231.57" stroke="#000" stroke-width="1.4"/>
<g transform="translate(91.46,237.93) scale(0.24878,0.24179)" stroke="#fff" stroke-width="1.427" stroke-linejoin="round"><text font-size="100">3</text></g>
<g transform="translate(42.76,163.86) scale(0.31609,0.34697)" stroke="#fff" stroke-width="1.508" stroke-linejoin="round"><text font-size="100">10</text></g>
<line x1="75.9" y1="145.26" x2="90.3" y2="145.26" stroke="#000" stroke-width="1.4"/>
<g transform="translate(91.72,151.21) scale(0.23143,0.24015)" stroke="#fff" stroke-width="1.484" stroke-linejoin="round"><text font-size="100">1</text></g>
<g transform="translate(60.96,77.55) scale(0.31609,0.34697)" stroke="#fff" stroke-width="1.508" stroke-linejoin="round"><text font-size="100">10</text></g>
<g transform="translate(91.72,64.9) scale(0.23143,0.24015)" stroke="#fff" stroke-width="1.484" stroke-linejoin="round"><text font-size="100">1</text></g>
<line x1="83.7" y1="521.6" x2="104" y2="521.6" stroke="#000" stroke-width="1.45"/>
<g transform="translate(106.5,530.1) scale(0.31149,0.34242)" stroke="#fff" stroke-width="1.529" stroke-linejoin="round"><text font-size="100">10</text></g>
<line x1="202.56" y1="521.6" x2="222.86" y2="521.6" stroke="#000" stroke-width="1.45"/>
<g transform="translate(225.36,530.1) scale(0.31149,0.34242)" stroke="#fff" stroke-width="1.529" stroke-linejoin="round"><text font-size="100">8</text></g>
<line x1="313.12" y1="521.6" x2="333.42" y2="521.6" stroke="#000" stroke-width="1.45"/>
<g transform="translate(335.92,530.1) scale(0.31149,0.34242)" stroke="#fff" stroke-width="1.529" stroke-linejoin="round"><text font-size="100">6</text></g>
<line x1="423.68" y1="521.6" x2="443.98" y2="521.6" stroke="#000" stroke-width="1.45"/>
<g transform="translate(446.48,530.1) scale(0.31149,0.34242)" stroke="#fff" stroke-width="1.529" stroke-linejoin="round"><text font-size="100">4</text></g>
<line x1="534.24" y1="521.6" x2="554.54" y2="521.6" stroke="#000" stroke-width="1.45"/>
<g transform="translate(557.04,530.1) scale(0.31149,0.34242)" stroke="#fff" stroke-width="1.529" stroke-linejoin="round"><text font-size="100">2</text></g>
<g transform="translate(654.68,530.1) scale(0.31149,0.34242)" stroke="#fff" stroke-width="1.529" stroke-linejoin="round"><text font-size="100">0</text></g>
<line x1="83.2" y1="1109.8" x2="102.9" y2="1109.8" stroke="#000" stroke-width="1.45"/>
<g transform="translate(105.11,1118) scale(0.31034,0.32576)" stroke="#fff" stroke-width="1.572" stroke-linejoin="round"><text font-size="100">10</text></g>
<line x1="201.81" y1="1109.8" x2="221.51" y2="1109.8" stroke="#000" stroke-width="1.45"/>
<g transform="translate(223.72,1118) scale(0.31034,0.32576)" stroke="#fff" stroke-width="1.572" stroke-linejoin="round"><text font-size="100">8</text></g>
<line x1="312.37" y1="1109.8" x2="332.07" y2="1109.8" stroke="#000" stroke-width="1.45"/>
<g transform="translate(334.28,1118) scale(0.31034,0.32576)" stroke="#fff" stroke-width="1.572" stroke-linejoin="round"><text font-size="100">6</text></g>
<line x1="422.93" y1="1109.8" x2="442.63" y2="1109.8" stroke="#000" stroke-width="1.45"/>
<g transform="translate(444.84,1118) scale(0.31034,0.32576)" stroke="#fff" stroke-width="1.572" stroke-linejoin="round"><text font-size="100">4</text></g>
<line x1="533.49" y1="1109.8" x2="553.19" y2="1109.8" stroke="#000" stroke-width="1.45"/>
<g transform="translate(555.4,1118) scale(0.31034,0.32576)" stroke="#fff" stroke-width="1.572" stroke-linejoin="round"><text font-size="100">2</text></g>
<g transform="translate(653.43,1118) scale(0.31034,0.32576)" stroke="#fff" stroke-width="1.572" stroke-linejoin="round"><text font-size="100">0</text></g>
<g transform="translate(347.53,568.28) scale(0.35303,0.35821)" stroke="#fff" stroke-width="1.125" stroke-linejoin="round"><text font-size="100" font-style="italic">V</text></g>
<g transform="translate(384.83,571.3) scale(0.15217,0.40000)"><text font-size="100">[</text></g>
<g transform="translate(389.61,568.28) scale(0.38857,0.35821)"><text font-size="100" font-weight="bold">V</text></g>
<g transform="translate(416.77,571.3) scale(0.14348,0.40000)"><text font-size="100">]</text></g>
<g transform="translate(344.92,1154.7) scale(0.33636,0.34925)" stroke="#fff" stroke-width="1.167" stroke-linejoin="round"><text font-size="100" font-style="italic">V</text></g>
<g transform="translate(380.27,1157.79) scale(0.14783,0.38554)"><text font-size="100">[</text></g>
<g transform="translate(387.49,1154.7) scale(0.41143,0.34925)"><text font-size="100" font-weight="bold">V</text></g>
<g transform="translate(418.37,1157.79) scale(0.14348,0.38554)"><text font-size="100">]</text></g>
<g transform="translate(28.64,353) rotate(-90) scale(0.39574,0.36061)" stroke="#fff" stroke-width="1.058"><text font-size="100" font-style="italic">J</text></g>
<g transform="translate(31.31,322.26) rotate(-90) scale(0.20870,0.40723)"><text font-size="100">[</text></g>
<g transform="translate(28.2,316.56) rotate(-90) scale(0.35263,0.36500)" stroke="#fff" stroke-width="1.115"><text font-size="100" font-weight="bold">mA</text></g>
<g transform="translate(28.2,252.83) rotate(-90) scale(0.34390,0.36500)" stroke="#fff" stroke-width="1.129"><text font-size="100" font-weight="bold">cm</text></g>
<line x1="9.9" y1="206" x2="9.9" y2="192.2" stroke="#000" stroke-width="1.6"/>
<g transform="translate(15.77,190.09) rotate(-90) scale(0.22195,0.23284)"><text font-size="100">2</text></g>
<g transform="translate(31.08,177.61) rotate(-90) scale(0.16957,0.40120)"><text font-size="100">]</text></g>
<g transform="translate(202.43,251.1) scale(0.28873,0.25942)" stroke="#000" stroke-width="1.642" stroke-linejoin="round"><text font-size="100">Light</text></g>
<g transform="translate(202.41,286.8) scale(0.29594,0.26812)" stroke="#000" stroke-width="1.596" stroke-linejoin="round"><text font-size="100">Dark</text></g>
<g transform="translate(202.44,436.1) scale(0.28608,0.26232)" stroke="#000" stroke-width="1.641" stroke-linejoin="round"><text font-size="100">Photomultiplicator 3 wt%</text></g>
<g transform="translate(243.88,471.3) scale(0.27908,0.25507)" stroke="#000" stroke-width="1.685" stroke-linejoin="round"><text font-size="100">-photodiode, 3 wt%</text></g>
<g transform="translate(204.63,471.3) scale(0.30370,0.25507)" stroke="#fff" stroke-width="1.432" stroke-linejoin="round"><text font-size="100" font-weight="bold" font-style="italic">pin</text></g>
<g transform="translate(50.71,1056.89) scale(0.31034,0.33182)" stroke="#fff" stroke-width="1.557" stroke-linejoin="round"><text font-size="100">10</text></g>
<g transform="translate(80.37,1045.06) scale(0.22529,0.22985)" stroke="#fff" stroke-width="1.538" stroke-linejoin="round"><text font-size="100">10</text></g>
<g transform="translate(50.71,921.14) scale(0.31034,0.33182)" stroke="#fff" stroke-width="1.557" stroke-linejoin="round"><text font-size="100">10</text></g>
<g transform="translate(80.37,909.31) scale(0.22529,0.22985)" stroke="#fff" stroke-width="1.538" stroke-linejoin="round"><text font-size="100">11</text></g>
<g transform="translate(50.71,785.4) scale(0.31034,0.33182)" stroke="#fff" stroke-width="1.557" stroke-linejoin="round"><text font-size="100">10</text></g>
<g transform="translate(80.37,773.57) scale(0.22529,0.22985)" stroke="#fff" stroke-width="1.538" stroke-linejoin="round"><text font-size="100">12</text></g>
<g transform="translate(50.71,649.65) scale(0.31034,0.33182)" stroke="#fff" stroke-width="1.557" stroke-linejoin="round"><text font-size="100">10</text></g>
<g transform="translate(80.37,637.82) scale(0.22529,0.22985)" stroke="#fff" stroke-width="1.538" stroke-linejoin="round"><text font-size="100">13</text></g>
<g transform="translate(665.82,1041.45) scale(0.28621,0.33788)" fill="#ff0000" stroke="#fff" stroke-width="1.602" stroke-linejoin="round"><text font-size="100">10</text></g>
<g transform="translate(694.99,1029.3) scale(0.22857,0.22059)" fill="#ff0000" stroke="#fff" stroke-width="1.558" stroke-linejoin="round"><text font-size="100">0</text></g>
<g transform="translate(665.82,961.11) scale(0.28621,0.33788)" fill="#ff0000" stroke="#fff" stroke-width="1.602" stroke-linejoin="round"><text font-size="100">10</text></g>
<g transform="translate(695.97,949.61) scale(0.20286,0.23182)" fill="#ff0000" stroke="#fff" stroke-width="1.610" stroke-linejoin="round"><text font-size="100">1</text></g>
<g transform="translate(665.82,880.77) scale(0.28621,0.33788)" fill="#ff0000" stroke="#fff" stroke-width="1.602" stroke-linejoin="round"><text font-size="100">10</text></g>
<g transform="translate(694.99,868.62) scale(0.22857,0.22059)" fill="#ff0000" stroke="#fff" stroke-width="1.558" stroke-linejoin="round"><text font-size="100">2</text></g>
<g transform="translate(665.82,800.43) scale(0.28621,0.33788)" fill="#ff0000" stroke="#fff" stroke-width="1.602" stroke-linejoin="round"><text font-size="100">10</text></g>
<g transform="translate(694.99,788.29) scale(0.22857,0.22059)" fill="#ff0000" stroke="#fff" stroke-width="1.558" stroke-linejoin="round"><text font-size="100">3</text></g>
<g transform="translate(665.82,720.09) scale(0.28621,0.33788)" fill="#ff0000" stroke="#fff" stroke-width="1.602" stroke-linejoin="round"><text font-size="100">10</text></g>
<g transform="translate(694.99,707.95) scale(0.22857,0.22059)" fill="#ff0000" stroke="#fff" stroke-width="1.558" stroke-linejoin="round"><text font-size="100">4</text></g>
<g transform="translate(665.82,639.75) scale(0.28621,0.33788)" fill="#ff0000" stroke="#fff" stroke-width="1.602" stroke-linejoin="round"><text font-size="100">10</text></g>
<g transform="translate(694.99,627.61) scale(0.22857,0.22059)" fill="#ff0000" stroke="#fff" stroke-width="1.558" stroke-linejoin="round"><text font-size="100">5</text></g>
<g transform="translate(437.13,648.4) scale(0.22375,0.19589)" stroke="#000" stroke-width="2.145" stroke-linejoin="round"><text font-size="100">Predicted <tspan font-style="italic">D</tspan><tspan font-size="65" dy="-30">*</tspan></text></g>
<g transform="translate(437.12,675.6) scale(0.22677,0.19565)" stroke="#000" stroke-width="2.131" stroke-linejoin="round"><text font-size="100">Measured <tspan font-style="italic">EQE</tspan></text></g>
<g transform="translate(436.48,705.9) scale(0.22082,0.18052)" stroke="#000" stroke-width="2.242" stroke-linejoin="round"><text font-size="100">5<tspan font-size="68" dy="-30">th</tspan><tspan dy="30"> order polynomial fit</tspan></text></g>
<g transform="translate(190.38,931.1) scale(0.27490,0.25507)" stroke="#000" stroke-width="1.698" stroke-linejoin="round"><text font-size="100">Photomultiplicator, 3 wt%</text></g>
<g transform="translate(231.13,965.2) scale(0.26798,0.24493)" stroke="#000" stroke-width="1.755" stroke-linejoin="round"><text font-size="100">-photodiode, 3 wt%</text></g>
<g transform="translate(192.67,965.2) scale(0.29630,0.24493)" stroke="#fff" stroke-width="1.478" stroke-linejoin="round"><text font-size="100" font-weight="bold" font-style="italic">pin</text></g>
<g transform="translate(30.75,1012.25) rotate(-90) scale(0.35417,0.34545)" stroke="#fff" stroke-width="1.143"><text font-size="100" font-style="italic">D</text></g>
<g transform="translate(25.69,987.2) rotate(-90) scale(0.22000,0.26757)"><text font-size="100">*</text></g>
<g transform="translate(38.9,988.62) rotate(-90) scale(0.22896,0.23100)" stroke="#fff" stroke-width="1.522"><text font-size="100">670 nm</text></g>
<g transform="translate(29.57,910.32) rotate(-90) scale(0.31739,0.31807)"><text font-size="100">[</text></g>
<g transform="translate(30.4,899) rotate(-90) scale(0.33333,0.34500)" stroke="#fff" stroke-width="0.885"><text font-size="100" font-weight="bold">cm</text></g>
<g transform="translate(30.4,846.98) rotate(-90) scale(0.33814,0.34500)" stroke="#fff" stroke-width="0.878"><text font-size="100" font-weight="bold">Hz</text></g>
<g transform="translate(17.6,805.37) rotate(-90) scale(0.26372,0.21000)" stroke="#fff" stroke-width="1.267"><text font-size="100">1/2</text></g>
<g transform="translate(30.6,762.83) rotate(-90) scale(0.32653,0.34500)" stroke="#fff" stroke-width="0.893"><text font-size="100" font-weight="bold">W</text></g>
<line x1="13.3" y1="728.8" x2="13.3" y2="714.8" stroke="#000" stroke-width="1.5"/>
<g transform="translate(19.1,714.31) rotate(-90) scale(0.25714,0.23788)"><text font-size="100">1</text></g>
<g transform="translate(29.47,701.72) rotate(-90) scale(0.33913,0.32530)"><text font-size="100">]</text></g>
<g transform="translate(727.5,754.37) rotate(90) scale(0.37423,0.33700)" fill="#ff0000" stroke="#fff" stroke-width="1.265"><text font-size="100" font-style="italic">EQE</text></g>
<g transform="translate(722.3,828.23) rotate(90) scale(0.21650,0.22900)" fill="#ff0000" stroke="#fff" stroke-width="1.571"><text font-size="100">670 nm</text></g>
<g transform="translate(727.3,904.01) rotate(90) scale(0.32667,0.33700)" fill="#ff0000" stroke="#fff" stroke-width="1.205"><text font-size="100">[%]</text></g>
</svg></body></html>
